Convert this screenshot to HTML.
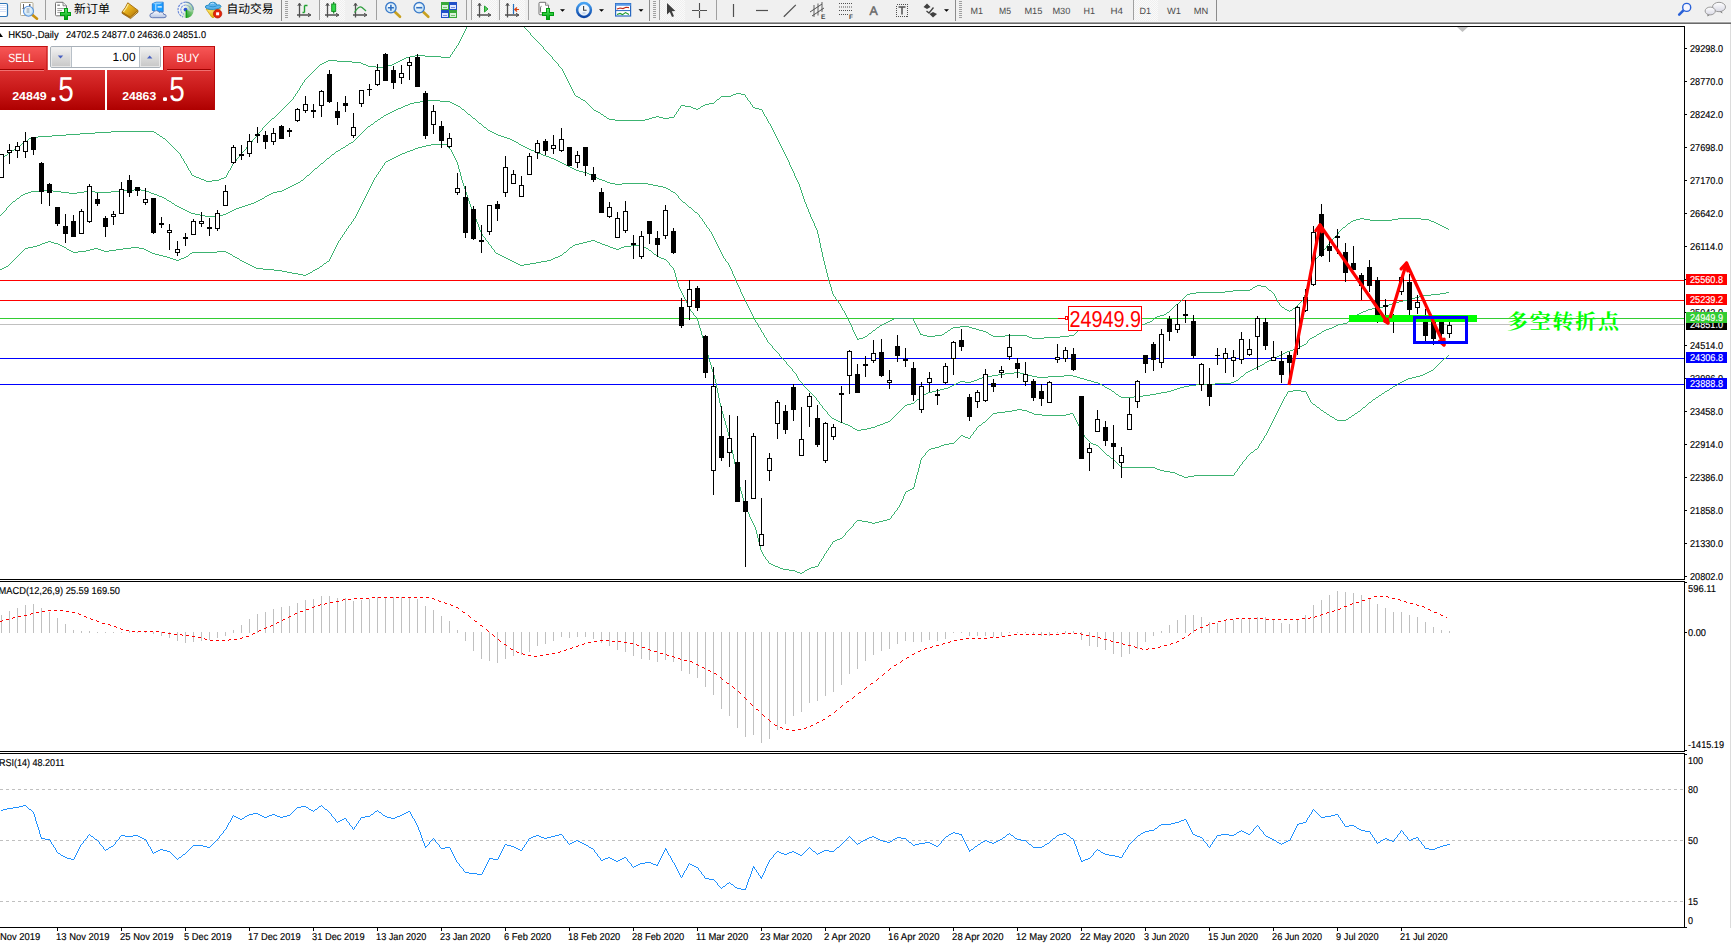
<!DOCTYPE html>
<html lang="zh"><head><meta charset="utf-8"><title>HK50-,Daily</title>
<style>
html,body{margin:0;padding:0;background:#fff;width:1731px;height:947px;overflow:hidden;}
body{width:1731px;height:947px;position:relative;overflow:hidden;font-family:"Liberation Sans","Noto Sans CJK SC",sans-serif;}
#tb{position:absolute;left:0;top:0;width:1731px;height:24px;background:#f0f0f0;}
#tb .sh{position:absolute;left:0;top:21px;width:1731px;height:3px;background:linear-gradient(#f6f6f6 0,#f6f6f6 33.3%,#a4a4a4 33.4%,#a4a4a4 66.6%,#6a6a6a 66.7%,#6a6a6a 100%);}
</style></head><body>
<svg width="1731" height="947" viewBox="0 0 1731 947" style="position:absolute;left:0;top:0" text-rendering="geometricPrecision" font-family="Liberation Sans, sans-serif"><defs><clipPath id="cm"><rect x="0" y="27" width="1684" height="552"/></clipPath><clipPath id="cd"><rect x="0" y="582" width="1684" height="169"/></clipPath><clipPath id="cr"><rect x="0" y="754" width="1684" height="173"/></clipPath><clipPath id="cx"><rect x="0" y="928" width="1731" height="19"/></clipPath></defs><g shape-rendering="crispEdges" fill="#000"><rect x="0" y="26" width="1685" height="1"/><rect x="1684" y="26" width="1" height="902"/><rect x="0" y="579" width="1685" height="1"/><rect x="0" y="581" width="1685" height="1"/><rect x="0" y="751" width="1685" height="1"/><rect x="0" y="753" width="1685" height="1"/><rect x="0" y="927" width="1687" height="1"/><rect x="1684" y="580" width="1" height="1" fill="#fff"/><rect x="1684" y="752" width="1" height="1" fill="#fff"/><rect x="1685" y="48" width="2" height="1"/><rect x="1685" y="81" width="2" height="1"/><rect x="1685" y="114" width="2" height="1"/><rect x="1685" y="147" width="2" height="1"/><rect x="1685" y="180" width="2" height="1"/><rect x="1685" y="213" width="2" height="1"/><rect x="1685" y="246" width="2" height="1"/><rect x="1685" y="279" width="2" height="1"/><rect x="1685" y="312" width="2" height="1"/><rect x="1685" y="345" width="2" height="1"/><rect x="1685" y="378" width="2" height="1"/><rect x="1685" y="411" width="2" height="1"/><rect x="1685" y="444" width="2" height="1"/><rect x="1685" y="477" width="2" height="1"/><rect x="1685" y="510" width="2" height="1"/><rect x="1685" y="543" width="2" height="1"/><rect x="1685" y="576" width="2" height="1"/><rect x="1685" y="582" width="2" height="1"/><rect x="1685" y="632" width="2" height="1"/><rect x="1685" y="750" width="2" height="1"/><rect x="1685" y="754" width="2" height="1"/><rect x="-7" y="928" width="1" height="3"/><rect x="57" y="928" width="1" height="3"/><rect x="121" y="928" width="1" height="3"/><rect x="185" y="928" width="1" height="3"/><rect x="249" y="928" width="1" height="3"/><rect x="313" y="928" width="1" height="3"/><rect x="377" y="928" width="1" height="3"/><rect x="441" y="928" width="1" height="3"/><rect x="505" y="928" width="1" height="3"/><rect x="569" y="928" width="1" height="3"/><rect x="633" y="928" width="1" height="3"/><rect x="697" y="928" width="1" height="3"/><rect x="761" y="928" width="1" height="3"/><rect x="825" y="928" width="1" height="3"/><rect x="889" y="928" width="1" height="3"/><rect x="953" y="928" width="1" height="3"/><rect x="1017" y="928" width="1" height="3"/><rect x="1081" y="928" width="1" height="3"/><rect x="1145" y="928" width="1" height="3"/><rect x="1209" y="928" width="1" height="3"/><rect x="1273" y="928" width="1" height="3"/><rect x="1337" y="928" width="1" height="3"/><rect x="1401" y="928" width="1" height="3"/></g><g shape-rendering="crispEdges"><rect x="0" y="280" width="1684" height="1" fill="#ff0000"/><rect x="0" y="300" width="1684" height="1" fill="#ff0000"/><rect x="0" y="318" width="1684" height="1" fill="#32cd32"/><rect x="0" y="324" width="1684" height="1" fill="#c0c0c0"/><rect x="0" y="358" width="1684" height="1" fill="#0000ff"/><rect x="0" y="384" width="1684" height="1" fill="#0000ff"/></g><g fill="none" stroke="#3cb371" stroke-width="1" shape-rendering="crispEdges"><path d="M0 159.5h1M1 158.5h2M3 157.5h1M4 156.5h1M5 155.5h2M7 154.5h1M8 153.5h2M10 152.5h1M11 151.5h1M12 150.5h2M14 149.5h1M15 148.5h2M17 147.5h1M18 146.5h2M20 145.5h1M21 144.5h1M22 143.5h2M24 142.5h1M25 141.5h2M27 140.5h1M28 139.5h1M29 138.5h2M31 137.5h7M38 136.5h14M52 135.5h14M66 134.5h14M80 133.5h15M95 132.5h16M111 131.5h43M154 132.5h2M156 133.5h1M157 134.5h2M159 135.5h1M160 136.5h2M162 137.5h1M163 138.5h2M165 139.5h1M166 140.5h1M167 141.5h1M168 142.5h1M169 143.5h1M170 144.5h1M171 145.5h1M172 146.5h1M173 147.5h1M174 148.5h1M175 149.5h1M176 150.5h1M177 151.5h1M178 152.5h1M179 153.5h1M180.5 154v2M181.5 156v2M182 158.5h1M183.5 159v2M184.5 161v2M185 163.5h1M186.5 164v2M187.5 166v2M188.5 168v2M189 170.5h1M190.5 171v2M191.5 173v2M192 175.5h2M194 176.5h2M196 177.5h3M199 178.5h2M201 179.5h3M204 180.5h2M206 181.5h6M212 180.5h7M219 179.5h2M221 178.5h3M224 177.5h2M226.5 175v2M227.5 173v2M228.5 171v2M229 170.5h1M230.5 168v2M231.5 166v2M232.5 164v2M233 163.5h1M234 162.5h1M235 161.5h1M236.5 159v2M237 158.5h1M238 157.5h1M239 156.5h1M240 155.5h1M241.5 153v2M242 152.5h1M243 151.5h1M244 150.5h1M245 149.5h1M246.5 147v2M247 146.5h1M248 145.5h1M249 144.5h1M250 143.5h1M251 142.5h1M252.5 140v2M253 139.5h1M254 138.5h1M255 137.5h1M256 136.5h1M257.5 134v2M258 133.5h1M259 132.5h1M260 131.5h1M261 130.5h1M262.5 128v2M263 127.5h1M264 126.5h1M265 125.5h1M266 124.5h1M267 123.5h1M268 122.5h1M269 121.5h1M270 120.5h1M271 119.5h1M272 118.5h2M274 117.5h1M275 116.5h1M276 115.5h1M277 114.5h1M278 113.5h1M279 112.5h1M280 111.5h1M281 110.5h1M282 109.5h1M283 108.5h1M284 107.5h1M285 106.5h1M286 105.5h1M287 104.5h1M288 103.5h1M289 102.5h1M290 101.5h1M291 100.5h1M292 99.5h1M293.5 97v2M294 96.5h1M295.5 94v2M296 93.5h1M297.5 91v2M298 90.5h1M299.5 88v2M300.5 86v2M301 85.5h1M302.5 83v2M303 82.5h1M304.5 80v2M305 79.5h1M306 78.5h1M307 77.5h1M308 76.5h1M309 75.5h1M310 74.5h1M311 73.5h1M312 72.5h1M313 71.5h1M314 70.5h1M315 69.5h1M316 68.5h1M317 67.5h1M318 66.5h1M319 65.5h1M320 64.5h2M322 63.5h2M324 62.5h2M326 61.5h2M328 60.5h9M337 61.5h15M352 62.5h9M361 63.5h2M363 64.5h3M366 65.5h2M368 66.5h8M376 67.5h9M385 66.5h3M388 65.5h4M392 64.5h2M394 63.5h2M396 62.5h2M398 61.5h2M400 60.5h2M402 59.5h2M404 58.5h2M406 57.5h4M410 56.5h5M415 55.5h10M425 56.5h16M441 57.5h9M450.5 55v2M451 54.5h1M452.5 52v2M453 51.5h1M454.5 49v2M455 48.5h1M456.5 46v2M457 45.5h1M458.5 43v2M459.5 41v2M460.5 39v2M461.5 37v2M462.5 35v2M463.5 33v2M464.5 31v2M465.5 29v2M466.5 27v2M524 27.5h1M525 28.5h1M526 29.5h1M527 30.5h1M528 31.5h1M529 32.5h1M530.5 33v2M531 35.5h1M532 36.5h1M533 37.5h1M534 38.5h1M535 39.5h1M536 40.5h1M537 41.5h1M538 42.5h1M539 43.5h1M540 44.5h1M541 45.5h1M542 46.5h1M543.5 47v2M544 49.5h1M545 50.5h1M546 51.5h1M547 52.5h1M548 53.5h1M549 54.5h1M550 55.5h1M551 56.5h1M552.5 57v2M553 59.5h1M554 60.5h1M555 61.5h1M556 62.5h1M557 63.5h1M558.5 64v2M559 66.5h1M560 67.5h1M561 68.5h1M562.5 69v2M563.5 71v2M564.5 73v2M565.5 75v2M566.5 77v2M567.5 79v2M568.5 81v2M569.5 83v2M570.5 85v2M571.5 87v2M572.5 89v2M573.5 91v2M574.5 93v2M575 95.5h1M576 96.5h2M578 97.5h2M580 98.5h1M581 99.5h2M583 100.5h2M585 101.5h1M586 102.5h1M587 103.5h1M588 104.5h1M589 105.5h1M590 106.5h1M591 107.5h1M592 108.5h1M593 109.5h1M594 110.5h2M596 111.5h2M598 112.5h2M600 113.5h1M601 114.5h2M603 115.5h1M604 116.5h2M606 117.5h1M607 118.5h2M609 119.5h6M615 120.5h30M645 119.5h4M649 118.5h3M652 117.5h4M656 116.5h3M659 117.5h4M663 118.5h6M669 117.5h5M674.5 115v2M675 114.5h1M676.5 112v2M677 111.5h1M678.5 109v2M679 108.5h1M680.5 106v2M681 105.5h4M685 106.5h6M691 107.5h2M693 108.5h3M696 109.5h2M698 108.5h2M700 107.5h1M701 106.5h2M703 105.5h2M705 104.5h4M709 103.5h5M714 102.5h1M715 101.5h1M716 100.5h1M717 99.5h2M719 98.5h1M720 97.5h1M721 96.5h10M731 95.5h2M733 94.5h3M736 93.5h5M741 94.5h4M745.5 95v2M746 97.5h1M747.5 98v2M748 100.5h1M749 101.5h1M750.5 102v2M751 104.5h1M752.5 105v2M753 107.5h2M755 108.5h4M759 109.5h3M762.5 110v2M763.5 112v2M764.5 114v2M765 116.5h1M766.5 117v2M767.5 119v2M768.5 121v2M769 123.5h1M770.5 124v2M771.5 126v2M772.5 128v2M773.5 130v2M774.5 132v2M775.5 134v2M776.5 136v2M777.5 138v2M778.5 140v2M779.5 142v2M780.5 144v2M781.5 146v2M782.5 148v2M783.5 150v2M784.5 152v2M785.5 154v2M786.5 156v2M787.5 158v2M788.5 160v2M789.5 162v3M790.5 165v2M791.5 167v2M792.5 169v2M793.5 171v2M794.5 173v3M795.5 176v2M796.5 178v2M797.5 180v2M798.5 182v2M799.5 184v3M800.5 187v3M801.5 190v3M802.5 193v3M803.5 196v3M804.5 199v3M805.5 202v2M806.5 204v3M807.5 207v2M808.5 209v3M809.5 212v2M810.5 214v3M811.5 217v2M812.5 219v2M813.5 221v2M814.5 223v3M815.5 226v2M816.5 228v2M817.5 230v4M818.5 234v4M819.5 238v5M820.5 243v5M821.5 248v4M822.5 252v5M823.5 257v4M824.5 261v4M825.5 265v4M826.5 269v4M827.5 273v4M828.5 277v4M829.5 281v3M830.5 284v3M831.5 287v4M832.5 291v3M833.5 294v2M834 296.5h1M835.5 297v2M836 299.5h1M837 300.5h1M838.5 301v2M839 303.5h1M840.5 304v2M841.5 306v2M842.5 308v2M843 310.5h1M844.5 311v2M845.5 313v2M846.5 315v2M847.5 317v2M848.5 319v2M849.5 321v2M850.5 323v2M851.5 325v2M852.5 327v3M853.5 330v2M854.5 332v2M855.5 334v2M856.5 336v2M857.5 338v2M858 339.5h1M859 338.5h4M863 337.5h2M865 336.5h2M867 335.5h1M868 334.5h1M869 333.5h2M871 332.5h1M872 331.5h1M873 330.5h2M875 329.5h1M876 328.5h1M877 327.5h2M879 326.5h1M880 325.5h2M882 324.5h2M884 323.5h2M886 322.5h2M888 321.5h2M890 320.5h2M892 319.5h2M894 318.5h19M913.5 319v2M914.5 321v2M915.5 323v2M916.5 325v2M917.5 327v2M918.5 329v2M919.5 331v2M920.5 333v2M921 334.5h2M923 335.5h4M927 336.5h8M935 335.5h7M942 334.5h2M944 333.5h1M945 332.5h2M947 331.5h1M948 330.5h2M950 329.5h1M951 328.5h2M953 327.5h7M960 326.5h9M969 327.5h3M972 328.5h4M976 329.5h3M979 330.5h4M983 331.5h3M986 332.5h2M988 333.5h1M989 334.5h2M991 335.5h2M993 336.5h12M1005 335.5h22M1027 336.5h2M1029 337.5h3M1032 338.5h12M1044 337.5h16M1060 336.5h9M1069 335.5h5M1074 334.5h1M1075 333.5h1M1076 332.5h1M1077 331.5h1M1078 330.5h1M1079 329.5h19M1098 328.5h14M1112 327.5h13M1125 326.5h10M1135 325.5h7M1142 324.5h3M1145 323.5h2M1147 322.5h3M1150 321.5h2M1152 320.5h1M1153 319.5h1M1154 318.5h1M1155 317.5h2M1157 316.5h3M1160 315.5h4M1164 314.5h2M1166 313.5h1M1167 312.5h2M1169 311.5h1M1170 310.5h1M1171 309.5h1M1172 308.5h1M1173 307.5h1M1174 306.5h1M1175 305.5h1M1176 304.5h2M1178 303.5h1M1179 302.5h1M1180 301.5h1M1181 300.5h1M1182 299.5h1M1183 298.5h1M1184 297.5h1M1185 296.5h1M1186 295.5h1M1187 294.5h3M1190 293.5h6M1196 292.5h29M1225 291.5h8M1233 290.5h17M1250 289.5h2M1252 288.5h1M1253 287.5h2M1255 286.5h2M1257 285.5h4M1261 286.5h5M1266 287.5h1M1267 288.5h1M1268 289.5h1M1269 290.5h2M1271 291.5h1M1272 292.5h1M1273 293.5h1M1274.5 294v2M1275.5 296v2M1276.5 298v2M1277.5 300v2M1278 302.5h1M1279.5 303v2M1280 305.5h1M1281 306.5h1M1282 307.5h2M1284 308.5h1M1285 309.5h2M1287 310.5h2M1289 311.5h1M1290 310.5h2M1292 309.5h1M1293 308.5h2M1295 307.5h1M1296 306.5h1M1297 305.5h1M1298 304.5h1M1299 303.5h1M1300 302.5h1M1301 301.5h1M1302 300.5h1M1303.5 298v2M1304.5 295v3M1305.5 291v4M1306.5 288v3M1307.5 285v3M1308.5 281v4M1309.5 278v3M1310.5 275v3M1311.5 271v4M1312.5 268v3M1313.5 265v3M1314.5 261v4M1315.5 259v2M1316 258.5h1M1317 257.5h1M1318 256.5h1M1319.5 254v2M1320 253.5h1M1321 252.5h1M1322 251.5h1M1323 250.5h1M1324 249.5h1M1325 248.5h1M1326.5 246v2M1327 245.5h1M1328 244.5h1M1329 243.5h1M1330 242.5h1M1331 241.5h1M1332.5 239v2M1333 238.5h1M1334 237.5h1M1335 236.5h1M1336 235.5h1M1337 234.5h1M1338.5 232v2M1339 231.5h1M1340 230.5h1M1341 229.5h1M1342 228.5h1M1343 227.5h2M1345 226.5h1M1346 225.5h1M1347 224.5h1M1348 223.5h2M1350 222.5h1M1351 221.5h2M1353 220.5h3M1356 219.5h4M1360 218.5h4M1364 219.5h6M1370 220.5h22M1392 219.5h6M1398 218.5h23M1421 219.5h8M1429 220.5h2M1431 221.5h3M1434 222.5h2M1436 223.5h2M1438 224.5h2M1440 225.5h2M1442 226.5h2M1444 227.5h2M1446 228.5h2M1448 229.5h1"/><path d="M0 215.5h1M1 214.5h1M2 213.5h1M3 212.5h1M4 211.5h1M5 210.5h1M6.5 208v2M7 207.5h1M8 206.5h1M9 205.5h1M10 204.5h1M11 203.5h1M12 202.5h1M13 201.5h2M15 200.5h1M16 199.5h1M17 198.5h2M19 197.5h1M20 196.5h1M21 195.5h2M23 194.5h2M25 193.5h3M28 192.5h3M31 191.5h10M41 190.5h12M53 191.5h8M61 192.5h8M69 193.5h8M77 192.5h7M84 191.5h11M95 192.5h16M111 191.5h13M124 190.5h10M134 189.5h7M141 190.5h4M145 191.5h4M149 192.5h2M151 193.5h3M154 194.5h3M157 195.5h2M159 196.5h3M162 197.5h2M164 198.5h2M166 199.5h1M167 200.5h2M169 201.5h2M171 202.5h1M172 203.5h2M174 204.5h1M175 205.5h2M177 206.5h2M179 207.5h2M181 208.5h2M183 209.5h2M185 210.5h2M187 211.5h2M189 212.5h2M191 213.5h4M195 214.5h5M200 215.5h5M205 216.5h14M219 215.5h4M223 214.5h3M226 213.5h2M228 212.5h2M230 211.5h2M232 210.5h2M234 209.5h2M236 208.5h3M239 207.5h3M242 206.5h3M245 205.5h3M248 204.5h3M251 203.5h3M254 202.5h2M256 201.5h2M258 200.5h2M260 199.5h2M262 198.5h2M264 197.5h1M265 196.5h2M267 195.5h2M269 194.5h2M271 193.5h2M273 192.5h4M277 191.5h5M282 190.5h2M284 189.5h2M286 188.5h2M288 187.5h2M290 186.5h2M292 185.5h2M294 184.5h2M296 183.5h2M298 182.5h2M300 181.5h1M301 180.5h2M303 179.5h1M304 178.5h1M305 177.5h1M306 176.5h1M307 175.5h2M309 174.5h1M310 173.5h1M311 172.5h1M312 171.5h1M313 170.5h1M314 169.5h1M315 168.5h2M317 167.5h1M318 166.5h1M319 165.5h1M320 164.5h1M321 163.5h2M323 162.5h1M324 161.5h1M325 160.5h1M326 159.5h1M327 158.5h2M329 157.5h1M330 156.5h1M331 155.5h1M332 154.5h2M334 153.5h1M335 152.5h1M336 151.5h2M338 150.5h2M340 149.5h1M341 148.5h2M343 147.5h2M345 146.5h1M346 145.5h2M348 144.5h1M349 143.5h2M351 142.5h2M353 141.5h1M354 140.5h1M355 139.5h1M356 138.5h1M357 137.5h1M358 136.5h1M359 135.5h1M360 134.5h1M361 133.5h1M362 132.5h1M363 131.5h1M364 130.5h1M365 129.5h1M366 128.5h1M367 127.5h1M368 126.5h2M370 125.5h1M371 124.5h2M373 123.5h1M374 122.5h1M375 121.5h2M377 120.5h1M378 119.5h2M380 118.5h1M381 117.5h2M383 116.5h1M384 115.5h2M386 114.5h2M388 113.5h2M390 112.5h2M392 111.5h2M394 110.5h2M396 109.5h2M398 108.5h3M401 107.5h2M403 106.5h2M405 105.5h3M408 104.5h2M410 103.5h4M414 102.5h6M420 101.5h7M427 100.5h13M440 101.5h10M450 102.5h2M452 103.5h2M454 104.5h2M456 105.5h2M458 106.5h2M460 107.5h1M461 108.5h1M462 109.5h2M464 110.5h1M465 111.5h1M466 112.5h1M467 113.5h1M468 114.5h2M470 115.5h1M471 116.5h1M472 117.5h1M473 118.5h2M475 119.5h1M476 120.5h1M477 121.5h1M478 122.5h1M479 123.5h2M481 124.5h1M482 125.5h1M483 126.5h1M484 127.5h2M486 128.5h1M487 129.5h1M488 130.5h2M490 131.5h2M492 132.5h2M494 133.5h2M496 134.5h2M498 135.5h3M501 136.5h3M504 137.5h3M507 138.5h3M510 139.5h2M512 140.5h2M514 141.5h2M516 142.5h2M518 143.5h1M519 144.5h2M521 145.5h2M523 146.5h2M525 147.5h2M527 148.5h2M529 149.5h2M531 150.5h3M534 151.5h2M536 152.5h2M538 153.5h3M541 154.5h2M543 155.5h3M546 156.5h3M549 157.5h2M551 158.5h3M554 159.5h2M556 160.5h2M558 161.5h2M560 162.5h2M562 163.5h2M564 164.5h2M566 165.5h2M568 166.5h2M570 167.5h2M572 168.5h2M574 169.5h2M576 170.5h3M579 171.5h4M583 172.5h4M587 173.5h2M589 174.5h2M591 175.5h2M593 176.5h2M595 177.5h2M597 178.5h2M599 179.5h3M602 180.5h3M605 181.5h2M607 182.5h3M610 183.5h5M615 184.5h7M622 183.5h26M648 184.5h5M653 185.5h5M658 186.5h5M663 187.5h3M666 188.5h2M668 189.5h2M670 190.5h1M671 191.5h2M673 192.5h2M675 193.5h1M676 194.5h1M677 195.5h1M678.5 196v2M679 198.5h1M680 199.5h1M681 200.5h1M682 201.5h1M683 202.5h2M685 203.5h1M686 204.5h1M687 205.5h1M688 206.5h1M689 207.5h2M691 208.5h1M692 209.5h1M693 210.5h1M694 211.5h1M695 212.5h2M697 213.5h1M698 214.5h1M699.5 215v2M700 217.5h1M701 218.5h1M702.5 219v2M703 221.5h1M704.5 222v2M705 224.5h1M706.5 225v2M707 227.5h1M708 228.5h1M709.5 229v2M710 231.5h1M711.5 232v2M712.5 234v2M713.5 236v2M714.5 238v2M715.5 240v2M716.5 242v2M717.5 244v2M718.5 246v2M719.5 248v2M720.5 250v2M721.5 252v2M722.5 254v2M723.5 256v2M724 258.5h1M725.5 259v2M726 261.5h1M727 262.5h1M728.5 263v2M729.5 265v2M730.5 267v2M731.5 269v2M732.5 271v3M733.5 274v2M734.5 276v2M735.5 278v3M736.5 281v2M737.5 283v2M738.5 285v2M739.5 287v2M740.5 289v3M741.5 292v2M742.5 294v2M743.5 296v2M744.5 298v2M745.5 300v2M746.5 302v2M747.5 304v2M748.5 306v2M749.5 308v2M750.5 310v2M751.5 312v2M752.5 314v2M753.5 316v2M754.5 318v2M755.5 320v2M756 322.5h1M757.5 323v2M758.5 325v2M759 327.5h1M760.5 328v2M761.5 330v2M762 332.5h1M763.5 333v2M764.5 335v2M765 337.5h1M766.5 338v2M767.5 340v2M768 342.5h1M769 343.5h1M770 344.5h1M771 345.5h1M772.5 346v2M773 348.5h1M774 349.5h1M775 350.5h1M776 351.5h1M777 352.5h1M778 353.5h1M779.5 354v2M780 356.5h1M781 357.5h1M782 358.5h1M783 359.5h1M784 360.5h1M785 361.5h1M786.5 362v2M787 364.5h1M788 365.5h1M789 366.5h1M790 367.5h1M791 368.5h1M792.5 369v2M793 371.5h1M794 372.5h1M795 373.5h1M796.5 374v2M797.5 376v2M798.5 378v2M799 380.5h1M800 381.5h1M801 382.5h1M802 383.5h1M803.5 384v2M804 386.5h1M805 387.5h1M806 388.5h1M807 389.5h1M808 390.5h1M809 391.5h1M810 392.5h1M811 393.5h1M812 394.5h1M813 395.5h1M814 396.5h1M815 397.5h1M816.5 398v2M817 400.5h1M818 401.5h1M819.5 402v2M820 404.5h1M821 405.5h1M822.5 406v2M823 408.5h1M824 409.5h1M825 410.5h1M826 411.5h1M827.5 412v2M828 414.5h1M829 415.5h1M830 416.5h1M831 417.5h1M832 418.5h2M834 419.5h2M836 420.5h2M838 421.5h2M840 422.5h3M843 423.5h2M845 424.5h3M848 425.5h2M850 426.5h2M852 427.5h1M853 428.5h2M855 429.5h2M857 430.5h4M861 429.5h6M867 428.5h4M871 427.5h4M875 426.5h2M877 425.5h3M880 424.5h3M883 423.5h2M885 422.5h3M888 421.5h2M890 420.5h1M891 419.5h1M892 418.5h1M893 417.5h1M894 416.5h1M895 415.5h1M896 414.5h1M897 413.5h1M898 412.5h1M899 411.5h1M900 410.5h1M901 409.5h1M902 408.5h1M903 407.5h1M904 406.5h1M905 405.5h2M907 404.5h4M911 403.5h3M914 402.5h1M915 401.5h1M916 400.5h1M917 399.5h2M919 398.5h1M920 397.5h1M921 396.5h1M922 395.5h2M924 394.5h2M926 393.5h2M928 392.5h4M932 391.5h4M936 390.5h4M940 389.5h4M944 388.5h4M948 387.5h2M950 386.5h2M952 385.5h2M954 384.5h2M956 383.5h2M958 382.5h2M960 381.5h5M965 382.5h6M971 381.5h3M974 380.5h3M977 379.5h2M979 378.5h3M982 377.5h4M986 376.5h6M992 375.5h6M998 374.5h7M1005 373.5h9M1014 372.5h6M1020 373.5h4M1024 374.5h4M1028 375.5h4M1032 376.5h5M1037 377.5h11M1048 376.5h16M1064 375.5h9M1073 376.5h4M1077 377.5h3M1080 378.5h4M1084 379.5h3M1087 380.5h4M1091 381.5h3M1094 382.5h4M1098 383.5h2M1100 384.5h2M1102 385.5h2M1104 386.5h1M1105 387.5h2M1107 388.5h2M1109 389.5h2M1111 390.5h1M1112 391.5h2M1114 392.5h1M1115 393.5h1M1116 394.5h2M1118 395.5h1M1119 396.5h2M1121 397.5h13M1134 396.5h9M1143 395.5h7M1150 394.5h6M1156 393.5h5M1161 392.5h6M1167 391.5h4M1171 390.5h3M1174 389.5h3M1177 388.5h3M1180 387.5h4M1184 386.5h5M1189 385.5h7M1196 384.5h19M1215 383.5h16M1231 382.5h3M1234 381.5h2M1236 380.5h2M1238 379.5h1M1239 378.5h1M1240 377.5h1M1241 376.5h2M1243 375.5h1M1244 374.5h1M1245 373.5h1M1246 372.5h2M1248 371.5h2M1250 370.5h2M1252 369.5h2M1254 368.5h2M1256 367.5h2M1258 366.5h2M1260 365.5h2M1262 364.5h2M1264 363.5h1M1265 362.5h2M1267 361.5h2M1269 360.5h2M1271 359.5h2M1273 358.5h2M1275 357.5h2M1277 356.5h2M1279 355.5h2M1281 354.5h2M1283 353.5h2M1285 352.5h2M1287 351.5h3M1290 350.5h3M1293 349.5h2M1295 348.5h3M1298 347.5h2M1300 346.5h2M1302 345.5h2M1304 344.5h2M1306 343.5h1M1307.5 341v2M1308 340.5h1M1309 339.5h1M1310 338.5h2M1312 337.5h2M1314 336.5h2M1316 335.5h1M1317 334.5h2M1319 333.5h2M1321 332.5h1M1322 331.5h2M1324 330.5h2M1326 329.5h3M1329 328.5h3M1332 327.5h2M1334 326.5h2M1336 325.5h2M1338 324.5h5M1343 323.5h4M1347 322.5h1M1348 321.5h2M1350 320.5h1M1351 319.5h1M1352 318.5h1M1353 317.5h1M1354 316.5h2M1356 315.5h1M1357 314.5h2M1359 313.5h2M1361 312.5h2M1363 311.5h3M1366 310.5h2M1368 309.5h4M1372 308.5h6M1378 307.5h5M1383 306.5h3M1386 305.5h3M1389 304.5h3M1392 303.5h3M1395 302.5h4M1399 301.5h4M1403 300.5h4M1407 299.5h4M1411 298.5h4M1415 297.5h4M1419 296.5h4M1423 295.5h8M1431 294.5h9M1440 293.5h6M1446 292.5h3"/><path d="M0 269.5h2M2 268.5h2M4 267.5h2M6 266.5h2M8 265.5h1M9 264.5h1M10 263.5h1M11 262.5h1M12 261.5h1M13 260.5h1M14 259.5h1M15 258.5h1M16 257.5h1M17 256.5h1M18 255.5h1M19 254.5h1M20 253.5h1M21 252.5h1M22 251.5h1M23 250.5h1M24 249.5h1M25 248.5h3M28 247.5h5M33 246.5h4M37 245.5h3M40 244.5h2M42 243.5h3M45 242.5h3M48 241.5h3M51 242.5h3M54 243.5h4M58 244.5h2M60 245.5h2M62 246.5h2M64 247.5h2M66 248.5h1M67 249.5h2M69 250.5h2M71 251.5h2M73 252.5h5M78 251.5h8M86 250.5h4M90 249.5h4M94 248.5h4M98 249.5h3M101 250.5h3M104 251.5h5M109 250.5h7M116 249.5h7M123 248.5h8M131 247.5h8M139 248.5h5M144 249.5h2M146 250.5h2M148 251.5h2M150 252.5h2M152 253.5h3M155 254.5h4M159 255.5h4M163 256.5h4M167 257.5h3M170 258.5h3M173 259.5h3M176 260.5h3M179 259.5h2M181 258.5h3M184 257.5h2M186 256.5h2M188 255.5h1M189 254.5h1M190 253.5h2M192 252.5h25M217 251.5h9M226 252.5h2M228 253.5h2M230 254.5h2M232 255.5h1M233 256.5h2M235 257.5h2M237 258.5h2M239 259.5h1M240 260.5h2M242 261.5h2M244 262.5h2M246 263.5h2M248 264.5h2M250 265.5h2M252 266.5h2M254 267.5h2M256 268.5h7M263 269.5h11M274 270.5h8M282 271.5h5M287 272.5h5M292 273.5h6M298 274.5h5M303 275.5h3M306 274.5h2M308 273.5h2M310 272.5h2M312 271.5h1M313 270.5h2M315 269.5h2M317 268.5h2M319 267.5h1M320 266.5h2M322 265.5h1M323 264.5h1M324 263.5h2M326 262.5h1M327 261.5h2M329.5 259v2M330.5 257v2M331.5 255v2M332.5 253v2M333.5 251v2M334.5 249v2M335.5 247v2M336.5 245v2M337.5 243v2M338.5 241v2M339 240.5h1M340.5 238v2M341 237.5h1M342.5 235v2M343 234.5h1M344.5 232v2M345 231.5h1M346.5 229v2M347 228.5h1M348.5 226v2M349 225.5h1M350 224.5h1M351.5 222v2M352 221.5h1M353.5 219v2M354 218.5h1M355.5 216v2M356.5 214v2M357.5 212v2M358.5 210v2M359.5 208v2M360.5 206v2M361.5 204v2M362.5 202v2M363.5 200v2M364.5 198v2M365.5 196v2M366.5 194v2M367.5 192v2M368.5 190v2M369.5 188v2M370.5 186v2M371.5 184v2M372.5 182v2M373.5 180v2M374.5 178v2M375 177.5h1M376.5 175v2M377 174.5h1M378.5 172v2M379 171.5h1M380.5 169v2M381 168.5h1M382.5 166v2M383 165.5h1M384.5 163v2M385 162.5h1M386 161.5h2M388 160.5h2M390 159.5h2M392 158.5h2M394 157.5h2M396 156.5h2M398 155.5h2M400 154.5h2M402 153.5h3M405 152.5h2M407 151.5h3M410 150.5h3M413 149.5h2M415 148.5h3M418 147.5h4M422 146.5h4M426 145.5h5M431 144.5h16M447 145.5h1M448.5 146v2M449 148.5h1M450 149.5h1M451.5 150v2M452.5 152v2M453.5 154v2M454.5 156v2M455.5 158v2M456.5 160v2M457.5 162v3M458.5 165v4M459.5 169v3M460.5 172v4M461.5 176v4M462.5 180v3M463.5 183v3M464.5 186v3M465.5 189v3M466.5 192v3M467.5 195v3M468.5 198v3M469.5 201v3M470.5 204v3M471.5 207v2M472.5 209v3M473.5 212v2M474.5 214v3M475.5 217v2M476.5 219v3M477.5 222v2M478.5 224v3M479.5 227v3M480.5 230v2M481.5 232v2M482.5 234v2M483 236.5h1M484 237.5h1M485.5 238v2M486 240.5h1M487 241.5h1M488.5 242v2M489 244.5h1M490 245.5h1M491.5 246v2M492 248.5h1M493 249.5h1M494.5 250v2M495 252.5h1M496 253.5h2M498 254.5h2M500 255.5h2M502 256.5h2M504 257.5h2M506 258.5h2M508 259.5h2M510 260.5h2M512 261.5h2M514 262.5h2M516 263.5h2M518 264.5h2M520 265.5h4M524 264.5h6M530 263.5h6M536 262.5h5M541 261.5h6M547 260.5h4M551 259.5h2M553 258.5h2M555 257.5h3M558 256.5h2M560 255.5h2M562 254.5h1M563 253.5h1M564 252.5h2M566 251.5h1M567 250.5h1M568 249.5h1M569 248.5h1M570 247.5h2M572 246.5h1M573 245.5h2M575 244.5h4M579 243.5h4M583 242.5h4M587 241.5h4M591 240.5h4M595 241.5h2M597 242.5h3M600 243.5h2M602 244.5h3M605 245.5h3M608 246.5h2M610 247.5h3M613 248.5h3M616 249.5h3M619 248.5h2M621 247.5h3M624 246.5h7M631 245.5h8M639 246.5h3M642 247.5h4M646 248.5h2M648 249.5h1M649 250.5h2M651 251.5h1M652 252.5h1M653 253.5h1M654 254.5h2M656 255.5h1M657 256.5h2M659 257.5h2M661 258.5h3M664 259.5h2M666 260.5h1M667 261.5h1M668 262.5h1M669.5 263v2M670 265.5h1M671 266.5h1M672 267.5h1M673.5 268v2M674.5 270v3M675.5 273v4M676.5 277v3M677.5 280v3M678.5 283v4M679.5 287v2M680.5 289v2M681.5 291v2M682.5 293v2M683.5 295v2M684.5 297v2M685.5 299v2M686.5 301v2M687.5 303v2M688.5 305v2M689.5 307v2M690.5 309v2M691 311.5h1M692 312.5h1M693.5 313v2M694 315.5h1M695 316.5h1M696.5 317v2M697.5 319v2M698.5 321v4M699.5 325v3M700.5 328v3M701.5 331v4M702.5 335v3M703.5 338v4M704.5 342v3M705.5 345v3M706.5 348v4M707.5 352v3M708.5 355v4M709.5 359v3M710.5 362v3M711.5 365v4M712.5 369v3M713.5 372v3M714.5 375v4M715.5 379v4M716.5 383v5M717.5 388v5M718.5 393v5M719.5 398v5M720.5 403v4M721.5 407v4M722.5 411v3M723.5 414v4M724.5 418v3M725.5 421v4M726.5 425v3M727.5 428v4M728.5 432v4M729.5 436v4M730.5 440v5M731.5 445v5M732.5 450v4M733.5 454v5M734.5 459v5M735.5 464v5M736.5 469v4M737.5 473v5M738.5 478v5M739.5 483v4M740.5 487v4M741.5 491v3M742.5 494v4M743.5 498v3M744.5 501v4M745.5 505v3M746.5 508v2M747.5 510v2M748.5 512v2M749.5 514v3M750.5 517v2M751.5 519v2M752.5 521v2M753.5 523v2M754.5 525v2M755.5 527v3M756.5 530v4M757.5 534v4M758.5 538v4M759.5 542v4M760.5 546v4M761.5 550v2M762.5 552v2M763.5 554v2M764 556.5h1M765.5 557v2M766 559.5h1M767 560.5h1M768.5 561v2M769 563.5h2M771 564.5h2M773 565.5h2M775 566.5h3M778 567.5h2M780 568.5h3M783 569.5h6M789 570.5h6M795 571.5h2M797 572.5h3M800 573.5h2M802 572.5h2M804 571.5h1M805 570.5h2M807 569.5h2M809 568.5h2M811 567.5h4M815 566.5h3M818.5 564v2M819.5 562v2M820 561.5h1M821.5 559v2M822 558.5h1M823.5 556v2M824.5 554v2M825 553.5h1M826.5 551v2M827 550.5h1M828.5 548v2M829 547.5h1M830.5 545v2M831 544.5h1M832.5 542v2M833 541.5h2M835 540.5h2M837 539.5h3M840 538.5h2M842 537.5h1M843 536.5h1M844 535.5h1M845.5 533v2M846 532.5h1M847 531.5h1M848 530.5h1M849 529.5h1M850 528.5h1M851 527.5h1M852 526.5h1M853.5 524v2M854 523.5h1M855 522.5h1M856 521.5h1M857 520.5h5M862 521.5h6M868 522.5h4M872 523.5h3M875 522.5h4M879 521.5h4M883 520.5h4M887 519.5h3M890 518.5h1M891.5 516v2M892 515.5h1M893 514.5h1M894.5 512v2M895 511.5h1M896 510.5h1M897.5 508v2M898 507.5h1M899.5 505v2M900.5 503v2M901.5 501v2M902.5 499v2M903.5 496v3M904.5 494v2M905.5 492v2M906 491.5h2M908 490.5h2M910 489.5h2M912 488.5h2M913 487.5h1M914.5 483v4M915.5 479v4M916.5 475v4M917.5 472v3M918.5 468v4M919.5 464v4M920.5 460v4M921.5 458v2M922 457.5h1M923 456.5h1M924 455.5h1M925.5 453v2M926 452.5h1M927 451.5h1M928 450.5h1M929 449.5h2M931 448.5h4M935 447.5h4M939 446.5h2M941 445.5h3M944 444.5h5M949 443.5h5M954 442.5h1M955 441.5h1M956 440.5h1M957 439.5h1M958 438.5h1M959 437.5h1M960 436.5h1M961 435.5h2M963 436.5h2M965 437.5h3M968 438.5h2M970.5 436v2M971 435.5h1M972 434.5h1M973.5 432v2M974 431.5h1M975 430.5h1M976.5 428v2M977 427.5h1M978 426.5h1M979 425.5h2M981 424.5h1M982 423.5h1M983 422.5h2M985 421.5h1M986 420.5h1M987 419.5h1M988 418.5h1M989 417.5h1M990 416.5h1M991 415.5h1M992 414.5h1M993 413.5h4M997 412.5h8M1005 411.5h7M1012 410.5h5M1017 409.5h5M1022 410.5h5M1027 411.5h2M1029 412.5h3M1032 413.5h2M1034 414.5h8M1042 415.5h24M1066 414.5h4M1070 413.5h3M1073.5 414v2M1074.5 416v2M1075.5 418v2M1076.5 420v2M1077.5 422v2M1078.5 424v2M1079.5 426v2M1080.5 428v2M1081.5 430v2M1082 432.5h1M1083.5 433v2M1084.5 435v2M1085 437.5h1M1086 438.5h1M1087 439.5h1M1088 440.5h1M1089 441.5h1M1090 442.5h1M1091 443.5h2M1093 444.5h3M1096 445.5h2M1098 446.5h1M1099 447.5h1M1100 448.5h1M1101 449.5h1M1102 450.5h1M1103 451.5h1M1104 452.5h1M1105 453.5h1M1106 454.5h1M1107 455.5h2M1109 456.5h1M1110 457.5h1M1111 458.5h2M1113 459.5h1M1114 460.5h1M1115 461.5h1M1116 462.5h1M1117 463.5h1M1118 464.5h1M1119 465.5h1M1120 466.5h1M1121 467.5h34M1155 468.5h2M1157 469.5h3M1160 470.5h4M1164 471.5h6M1170 472.5h5M1175 473.5h2M1177 474.5h2M1179 475.5h3M1182 476.5h2M1184 477.5h4M1188 476.5h6M1194 475.5h40M1234.5 473v2M1235 472.5h1M1236 471.5h1M1237.5 469v2M1238 468.5h1M1239.5 466v2M1240 465.5h1M1241 464.5h1M1242.5 462v2M1243 461.5h1M1244 460.5h1M1245 459.5h1M1246.5 457v2M1247 456.5h1M1248 455.5h1M1249 454.5h1M1250 453.5h1M1251 452.5h2M1253 451.5h1M1254 450.5h1M1255 449.5h2M1257 448.5h1M1258.5 446v2M1259.5 444v2M1260 443.5h1M1261.5 441v2M1262 440.5h1M1263.5 438v2M1264.5 436v2M1265 435.5h1M1266.5 433v2M1267.5 431v2M1268.5 429v2M1269.5 427v2M1270.5 425v2M1271.5 423v2M1272.5 421v2M1273.5 419v2M1274.5 417v2M1275.5 415v2M1276.5 413v2M1277.5 411v2M1278.5 409v2M1279.5 407v2M1280.5 405v2M1281.5 403v2M1282.5 401v2M1283.5 399v2M1284.5 397v2M1285 396.5h1M1286.5 394v2M1287.5 392v2M1288 391.5h5M1293 390.5h8M1301 391.5h5M1306.5 392v2M1307.5 394v2M1308.5 396v2M1309.5 398v2M1310.5 400v2M1311 402.5h1M1312 403.5h1M1313 404.5h2M1315 405.5h1M1316 406.5h1M1317 407.5h2M1319 408.5h1M1320 409.5h1M1321 410.5h2M1323 411.5h1M1324 412.5h2M1326 413.5h1M1327 414.5h2M1329 415.5h1M1330 416.5h2M1332 417.5h2M1334 418.5h1M1335 419.5h2M1337 420.5h9M1346 419.5h2M1348 418.5h1M1349 417.5h2M1351 416.5h1M1352 415.5h2M1354 414.5h1M1355 413.5h2M1357 412.5h1M1358 411.5h2M1360 410.5h1M1361 409.5h1M1362 408.5h1M1363 407.5h2M1365 406.5h1M1366 405.5h1M1367 404.5h1M1368 403.5h1M1369 402.5h2M1371 401.5h1M1372 400.5h1M1373 399.5h2M1375 398.5h1M1376 397.5h2M1378 396.5h1M1379 395.5h2M1381 394.5h1M1382 393.5h2M1384 392.5h1M1385 391.5h2M1387 390.5h2M1389 389.5h1M1390 388.5h2M1392 387.5h1M1393 386.5h2M1395 385.5h2M1397 384.5h1M1398 383.5h2M1400 382.5h2M1402 381.5h2M1404 380.5h2M1406 379.5h2M1408 378.5h4M1412 377.5h4M1416 376.5h4M1420 375.5h3M1423 374.5h2M1425 373.5h2M1427 372.5h2M1429 371.5h2M1431 370.5h2M1433 369.5h1M1434 368.5h1M1435 367.5h1M1436 366.5h1M1437 365.5h1M1438 364.5h1M1439 363.5h1M1440 362.5h1M1441 361.5h1M1442 360.5h1M1443 359.5h1M1444 358.5h2M1446 357.5h1M1447 356.5h1M1448 355.5h1"/></g><g clip-path="url(#cm)" shape-rendering="crispEdges"><rect x="1" y="154" width="1" height="24" fill="#000"/><rect x="-1" y="154" width="5" height="24" fill="#000"/><rect x="0" y="155" width="3" height="22" fill="#fff"/><rect x="9" y="144" width="1" height="20" fill="#000"/><rect x="7" y="150" width="5" height="3" fill="#000"/><rect x="8" y="151" width="3" height="1" fill="#fff"/><rect x="17" y="142" width="1" height="16" fill="#000"/><rect x="15" y="146" width="5" height="5" fill="#000"/><rect x="16" y="147" width="3" height="3" fill="#fff"/><rect x="25" y="132" width="1" height="26" fill="#000"/><rect x="23" y="141" width="5" height="11" fill="#000"/><rect x="24" y="142" width="3" height="9" fill="#fff"/><rect x="33" y="137" width="1" height="18" fill="#000"/><rect x="31" y="137" width="5" height="13" fill="#000"/><rect x="41" y="162" width="1" height="42" fill="#000"/><rect x="39" y="163" width="5" height="29" fill="#000"/><rect x="49" y="183" width="1" height="23" fill="#000"/><rect x="47" y="184" width="5" height="9" fill="#000"/><rect x="57" y="207" width="1" height="19" fill="#000"/><rect x="55" y="207" width="5" height="17" fill="#000"/><rect x="65" y="214" width="1" height="29" fill="#000"/><rect x="63" y="226" width="5" height="8" fill="#000"/><rect x="73" y="215" width="1" height="22" fill="#000"/><rect x="71" y="221" width="5" height="16" fill="#000"/><rect x="81" y="209" width="1" height="25" fill="#000"/><rect x="79" y="211" width="5" height="23" fill="#000"/><rect x="80" y="212" width="3" height="21" fill="#fff"/><rect x="89" y="184" width="1" height="39" fill="#000"/><rect x="87" y="186" width="5" height="36" fill="#000"/><rect x="88" y="187" width="3" height="34" fill="#fff"/><rect x="97" y="193" width="1" height="13" fill="#000"/><rect x="95" y="199" width="5" height="5" fill="#000"/><rect x="105" y="216" width="1" height="21" fill="#000"/><rect x="103" y="218" width="5" height="9" fill="#000"/><rect x="113" y="211" width="1" height="14" fill="#000"/><rect x="111" y="214" width="5" height="3" fill="#000"/><rect x="112" y="215" width="3" height="1" fill="#fff"/><rect x="121" y="182" width="1" height="32" fill="#000"/><rect x="119" y="189" width="5" height="25" fill="#000"/><rect x="120" y="190" width="3" height="23" fill="#fff"/><rect x="129" y="175" width="1" height="22" fill="#000"/><rect x="127" y="180" width="5" height="13" fill="#000"/><rect x="137" y="187" width="1" height="9" fill="#000"/><rect x="135" y="187" width="5" height="4" fill="#000"/><rect x="145" y="188" width="1" height="17" fill="#000"/><rect x="143" y="199" width="5" height="4" fill="#000"/><rect x="144" y="200" width="3" height="2" fill="#fff"/><rect x="153" y="198" width="1" height="36" fill="#000"/><rect x="151" y="198" width="5" height="35" fill="#000"/><rect x="161" y="217" width="1" height="11" fill="#000"/><rect x="159" y="223" width="5" height="2" fill="#000"/><rect x="169" y="224" width="1" height="26" fill="#000"/><rect x="167" y="230" width="5" height="3" fill="#000"/><rect x="168" y="231" width="3" height="1" fill="#fff"/><rect x="177" y="241" width="1" height="15" fill="#000"/><rect x="175" y="249" width="5" height="4" fill="#000"/><rect x="176" y="250" width="3" height="2" fill="#fff"/><rect x="185" y="233" width="1" height="13" fill="#000"/><rect x="183" y="237" width="5" height="2" fill="#000"/><rect x="193" y="219" width="1" height="16" fill="#000"/><rect x="191" y="221" width="5" height="14" fill="#000"/><rect x="192" y="222" width="3" height="12" fill="#fff"/><rect x="201" y="212" width="1" height="15" fill="#000"/><rect x="199" y="221" width="5" height="3" fill="#000"/><rect x="200" y="222" width="3" height="1" fill="#fff"/><rect x="209" y="218" width="1" height="18" fill="#000"/><rect x="207" y="227" width="5" height="2" fill="#000"/><rect x="217" y="210" width="1" height="21" fill="#000"/><rect x="215" y="213" width="5" height="16" fill="#000"/><rect x="216" y="214" width="3" height="14" fill="#fff"/><rect x="225" y="185" width="1" height="21" fill="#000"/><rect x="223" y="191" width="5" height="15" fill="#000"/><rect x="224" y="192" width="3" height="13" fill="#fff"/><rect x="233" y="145" width="1" height="19" fill="#000"/><rect x="231" y="147" width="5" height="16" fill="#000"/><rect x="232" y="148" width="3" height="14" fill="#fff"/><rect x="241" y="145" width="1" height="15" fill="#000"/><rect x="239" y="154" width="5" height="2" fill="#000"/><rect x="249" y="134" width="1" height="23" fill="#000"/><rect x="247" y="141" width="5" height="13" fill="#000"/><rect x="248" y="142" width="3" height="11" fill="#fff"/><rect x="257" y="127" width="1" height="16" fill="#000"/><rect x="255" y="134" width="5" height="2" fill="#000"/><rect x="265" y="131" width="1" height="18" fill="#000"/><rect x="263" y="135" width="5" height="7" fill="#000"/><rect x="273" y="128" width="1" height="17" fill="#000"/><rect x="271" y="133" width="5" height="9" fill="#000"/><rect x="272" y="134" width="3" height="7" fill="#fff"/><rect x="281" y="125" width="1" height="14" fill="#000"/><rect x="279" y="126" width="5" height="13" fill="#000"/><rect x="289" y="128" width="1" height="9" fill="#000"/><rect x="287" y="130" width="5" height="2" fill="#000"/><rect x="297" y="108" width="1" height="14" fill="#000"/><rect x="295" y="109" width="5" height="12" fill="#000"/><rect x="296" y="110" width="3" height="10" fill="#fff"/><rect x="305" y="96" width="1" height="17" fill="#000"/><rect x="303" y="104" width="5" height="7" fill="#000"/><rect x="304" y="105" width="3" height="5" fill="#fff"/><rect x="313" y="104" width="1" height="14" fill="#000"/><rect x="311" y="110" width="5" height="2" fill="#000"/><rect x="321" y="90" width="1" height="27" fill="#000"/><rect x="319" y="91" width="5" height="15" fill="#000"/><rect x="320" y="92" width="3" height="13" fill="#fff"/><rect x="329" y="70" width="1" height="33" fill="#000"/><rect x="327" y="74" width="5" height="28" fill="#000"/><rect x="337" y="102" width="1" height="23" fill="#000"/><rect x="335" y="111" width="5" height="7" fill="#000"/><rect x="345" y="96" width="1" height="16" fill="#000"/><rect x="343" y="103" width="5" height="3" fill="#000"/><rect x="353" y="113" width="1" height="25" fill="#000"/><rect x="351" y="127" width="5" height="9" fill="#000"/><rect x="352" y="128" width="3" height="7" fill="#fff"/><rect x="361" y="90" width="1" height="17" fill="#000"/><rect x="359" y="90" width="5" height="14" fill="#000"/><rect x="360" y="91" width="3" height="12" fill="#fff"/><rect x="369" y="84" width="1" height="12" fill="#000"/><rect x="367" y="89" width="5" height="1" fill="#000"/><rect x="377" y="64" width="1" height="22" fill="#000"/><rect x="375" y="70" width="5" height="15" fill="#000"/><rect x="376" y="71" width="3" height="13" fill="#fff"/><rect x="385" y="53" width="1" height="28" fill="#000"/><rect x="383" y="54" width="5" height="27" fill="#000"/><rect x="393" y="66" width="1" height="23" fill="#000"/><rect x="391" y="70" width="5" height="13" fill="#000"/><rect x="401" y="65" width="1" height="19" fill="#000"/><rect x="399" y="73" width="5" height="5" fill="#000"/><rect x="400" y="74" width="3" height="3" fill="#fff"/><rect x="409" y="57" width="1" height="23" fill="#000"/><rect x="407" y="62" width="5" height="4" fill="#000"/><rect x="408" y="63" width="3" height="2" fill="#fff"/><rect x="417" y="54" width="1" height="33" fill="#000"/><rect x="415" y="57" width="5" height="30" fill="#000"/><rect x="425" y="91" width="1" height="48" fill="#000"/><rect x="423" y="93" width="5" height="43" fill="#000"/><rect x="433" y="105" width="1" height="29" fill="#000"/><rect x="431" y="111" width="5" height="14" fill="#000"/><rect x="432" y="112" width="3" height="12" fill="#fff"/><rect x="441" y="121" width="1" height="27" fill="#000"/><rect x="439" y="126" width="5" height="15" fill="#000"/><rect x="449" y="133" width="1" height="15" fill="#000"/><rect x="447" y="138" width="5" height="9" fill="#000"/><rect x="448" y="139" width="3" height="7" fill="#fff"/><rect x="457" y="173" width="1" height="22" fill="#000"/><rect x="455" y="188" width="5" height="5" fill="#000"/><rect x="456" y="189" width="3" height="3" fill="#fff"/><rect x="465" y="186" width="1" height="52" fill="#000"/><rect x="463" y="197" width="5" height="36" fill="#000"/><rect x="473" y="206" width="1" height="34" fill="#000"/><rect x="471" y="209" width="5" height="30" fill="#000"/><rect x="481" y="225" width="1" height="28" fill="#000"/><rect x="479" y="240" width="5" height="2" fill="#000"/><rect x="489" y="205" width="1" height="30" fill="#000"/><rect x="487" y="205" width="5" height="27" fill="#000"/><rect x="488" y="206" width="3" height="25" fill="#fff"/><rect x="497" y="201" width="1" height="20" fill="#000"/><rect x="495" y="204" width="5" height="5" fill="#000"/><rect x="505" y="156" width="1" height="41" fill="#000"/><rect x="503" y="167" width="5" height="26" fill="#000"/><rect x="504" y="168" width="3" height="24" fill="#fff"/><rect x="513" y="170" width="1" height="14" fill="#000"/><rect x="511" y="174" width="5" height="10" fill="#000"/><rect x="512" y="175" width="3" height="8" fill="#fff"/><rect x="521" y="176" width="1" height="21" fill="#000"/><rect x="519" y="185" width="5" height="12" fill="#000"/><rect x="520" y="186" width="3" height="10" fill="#fff"/><rect x="529" y="153" width="1" height="22" fill="#000"/><rect x="527" y="156" width="5" height="19" fill="#000"/><rect x="528" y="157" width="3" height="17" fill="#fff"/><rect x="537" y="140" width="1" height="19" fill="#000"/><rect x="535" y="143" width="5" height="10" fill="#000"/><rect x="536" y="144" width="3" height="8" fill="#fff"/><rect x="545" y="139" width="1" height="16" fill="#000"/><rect x="543" y="141" width="5" height="10" fill="#000"/><rect x="553" y="135" width="1" height="19" fill="#000"/><rect x="551" y="145" width="5" height="4" fill="#000"/><rect x="552" y="146" width="3" height="2" fill="#fff"/><rect x="561" y="128" width="1" height="24" fill="#000"/><rect x="559" y="139" width="5" height="12" fill="#000"/><rect x="560" y="140" width="3" height="10" fill="#fff"/><rect x="569" y="147" width="1" height="19" fill="#000"/><rect x="567" y="147" width="5" height="19" fill="#000"/><rect x="577" y="151" width="1" height="17" fill="#000"/><rect x="575" y="155" width="5" height="8" fill="#000"/><rect x="576" y="156" width="3" height="6" fill="#fff"/><rect x="585" y="147" width="1" height="29" fill="#000"/><rect x="583" y="147" width="5" height="19" fill="#000"/><rect x="593" y="167" width="1" height="15" fill="#000"/><rect x="591" y="174" width="5" height="6" fill="#000"/><rect x="601" y="188" width="1" height="25" fill="#000"/><rect x="599" y="192" width="5" height="21" fill="#000"/><rect x="609" y="202" width="1" height="16" fill="#000"/><rect x="607" y="207" width="5" height="10" fill="#000"/><rect x="608" y="208" width="3" height="8" fill="#fff"/><rect x="617" y="212" width="1" height="26" fill="#000"/><rect x="615" y="218" width="5" height="20" fill="#000"/><rect x="616" y="219" width="3" height="18" fill="#fff"/><rect x="625" y="201" width="1" height="32" fill="#000"/><rect x="623" y="211" width="5" height="20" fill="#000"/><rect x="624" y="212" width="3" height="18" fill="#fff"/><rect x="633" y="235" width="1" height="24" fill="#000"/><rect x="631" y="243" width="5" height="2" fill="#000"/><rect x="641" y="231" width="1" height="28" fill="#000"/><rect x="639" y="236" width="5" height="21" fill="#000"/><rect x="640" y="237" width="3" height="19" fill="#fff"/><rect x="649" y="221" width="1" height="23" fill="#000"/><rect x="647" y="221" width="5" height="13" fill="#000"/><rect x="657" y="231" width="1" height="26" fill="#000"/><rect x="655" y="238" width="5" height="7" fill="#000"/><rect x="665" y="205" width="1" height="34" fill="#000"/><rect x="663" y="210" width="5" height="26" fill="#000"/><rect x="664" y="211" width="3" height="24" fill="#fff"/><rect x="673" y="228" width="1" height="26" fill="#000"/><rect x="671" y="231" width="5" height="22" fill="#000"/><rect x="681" y="298" width="1" height="30" fill="#000"/><rect x="679" y="307" width="5" height="19" fill="#000"/><rect x="689" y="280" width="1" height="40" fill="#000"/><rect x="687" y="289" width="5" height="18" fill="#000"/><rect x="688" y="290" width="3" height="16" fill="#fff"/><rect x="697" y="286" width="1" height="25" fill="#000"/><rect x="695" y="288" width="5" height="20" fill="#000"/><rect x="705" y="335" width="1" height="43" fill="#000"/><rect x="703" y="336" width="5" height="37" fill="#000"/><rect x="713" y="367" width="1" height="128" fill="#000"/><rect x="711" y="386" width="5" height="85" fill="#000"/><rect x="712" y="387" width="3" height="83" fill="#fff"/><rect x="721" y="406" width="1" height="55" fill="#000"/><rect x="719" y="436" width="5" height="22" fill="#000"/><rect x="729" y="415" width="1" height="52" fill="#000"/><rect x="727" y="438" width="5" height="15" fill="#000"/><rect x="728" y="439" width="3" height="13" fill="#fff"/><rect x="737" y="416" width="1" height="86" fill="#000"/><rect x="735" y="462" width="5" height="40" fill="#000"/><rect x="745" y="480" width="1" height="87" fill="#000"/><rect x="743" y="501" width="5" height="11" fill="#000"/><rect x="753" y="433" width="1" height="66" fill="#000"/><rect x="751" y="436" width="5" height="63" fill="#000"/><rect x="752" y="437" width="3" height="61" fill="#fff"/><rect x="761" y="498" width="1" height="48" fill="#000"/><rect x="759" y="534" width="5" height="12" fill="#000"/><rect x="760" y="535" width="3" height="10" fill="#fff"/><rect x="769" y="453" width="1" height="28" fill="#000"/><rect x="767" y="458" width="5" height="13" fill="#000"/><rect x="768" y="459" width="3" height="11" fill="#fff"/><rect x="777" y="400" width="1" height="39" fill="#000"/><rect x="775" y="402" width="5" height="22" fill="#000"/><rect x="776" y="403" width="3" height="20" fill="#fff"/><rect x="785" y="405" width="1" height="29" fill="#000"/><rect x="783" y="411" width="5" height="19" fill="#000"/><rect x="793" y="384" width="1" height="37" fill="#000"/><rect x="791" y="387" width="5" height="23" fill="#000"/><rect x="801" y="407" width="1" height="49" fill="#000"/><rect x="799" y="439" width="5" height="17" fill="#000"/><rect x="800" y="440" width="3" height="15" fill="#fff"/><rect x="809" y="393" width="1" height="34" fill="#000"/><rect x="807" y="396" width="5" height="11" fill="#000"/><rect x="808" y="397" width="3" height="9" fill="#fff"/><rect x="817" y="405" width="1" height="42" fill="#000"/><rect x="815" y="418" width="5" height="27" fill="#000"/><rect x="825" y="422" width="1" height="41" fill="#000"/><rect x="823" y="423" width="5" height="38" fill="#000"/><rect x="824" y="424" width="3" height="36" fill="#fff"/><rect x="833" y="424" width="1" height="16" fill="#000"/><rect x="831" y="427" width="5" height="10" fill="#000"/><rect x="832" y="428" width="3" height="8" fill="#fff"/><rect x="841" y="386" width="1" height="37" fill="#000"/><rect x="839" y="393" width="5" height="2" fill="#000"/><rect x="849" y="350" width="1" height="44" fill="#000"/><rect x="847" y="351" width="5" height="25" fill="#000"/><rect x="848" y="352" width="3" height="23" fill="#fff"/><rect x="857" y="364" width="1" height="29" fill="#000"/><rect x="855" y="374" width="5" height="19" fill="#000"/><rect x="865" y="356" width="1" height="21" fill="#000"/><rect x="863" y="364" width="5" height="2" fill="#000"/><rect x="873" y="340" width="1" height="23" fill="#000"/><rect x="871" y="353" width="5" height="8" fill="#000"/><rect x="872" y="354" width="3" height="6" fill="#fff"/><rect x="881" y="339" width="1" height="38" fill="#000"/><rect x="879" y="352" width="5" height="24" fill="#000"/><rect x="889" y="370" width="1" height="19" fill="#000"/><rect x="887" y="380" width="5" height="3" fill="#000"/><rect x="888" y="381" width="3" height="1" fill="#fff"/><rect x="897" y="335" width="1" height="27" fill="#000"/><rect x="895" y="346" width="5" height="10" fill="#000"/><rect x="905" y="348" width="1" height="19" fill="#000"/><rect x="903" y="359" width="5" height="2" fill="#000"/><rect x="913" y="362" width="1" height="39" fill="#000"/><rect x="911" y="368" width="5" height="27" fill="#000"/><rect x="921" y="382" width="1" height="31" fill="#000"/><rect x="919" y="386" width="5" height="24" fill="#000"/><rect x="920" y="387" width="3" height="22" fill="#fff"/><rect x="929" y="372" width="1" height="20" fill="#000"/><rect x="927" y="378" width="5" height="5" fill="#000"/><rect x="928" y="379" width="3" height="3" fill="#fff"/><rect x="937" y="389" width="1" height="16" fill="#000"/><rect x="935" y="394" width="5" height="2" fill="#000"/><rect x="945" y="363" width="1" height="21" fill="#000"/><rect x="943" y="366" width="5" height="17" fill="#000"/><rect x="944" y="367" width="3" height="15" fill="#fff"/><rect x="953" y="341" width="1" height="34" fill="#000"/><rect x="951" y="342" width="5" height="17" fill="#000"/><rect x="952" y="343" width="3" height="15" fill="#fff"/><rect x="961" y="329" width="1" height="22" fill="#000"/><rect x="959" y="340" width="5" height="7" fill="#000"/><rect x="969" y="394" width="1" height="27" fill="#000"/><rect x="967" y="397" width="5" height="20" fill="#000"/><rect x="977" y="390" width="1" height="18" fill="#000"/><rect x="975" y="392" width="5" height="10" fill="#000"/><rect x="976" y="393" width="3" height="8" fill="#fff"/><rect x="985" y="369" width="1" height="33" fill="#000"/><rect x="983" y="374" width="5" height="27" fill="#000"/><rect x="984" y="375" width="3" height="25" fill="#fff"/><rect x="993" y="379" width="1" height="13" fill="#000"/><rect x="991" y="383" width="5" height="4" fill="#000"/><rect x="1001" y="366" width="1" height="12" fill="#000"/><rect x="999" y="370" width="5" height="3" fill="#000"/><rect x="1000" y="371" width="3" height="1" fill="#fff"/><rect x="1009" y="334" width="1" height="26" fill="#000"/><rect x="1007" y="347" width="5" height="10" fill="#000"/><rect x="1008" y="348" width="3" height="8" fill="#fff"/><rect x="1017" y="358" width="1" height="20" fill="#000"/><rect x="1015" y="363" width="5" height="6" fill="#000"/><rect x="1025" y="362" width="1" height="24" fill="#000"/><rect x="1023" y="374" width="5" height="8" fill="#000"/><rect x="1024" y="375" width="3" height="6" fill="#fff"/><rect x="1033" y="379" width="1" height="22" fill="#000"/><rect x="1031" y="381" width="5" height="17" fill="#000"/><rect x="1041" y="384" width="1" height="22" fill="#000"/><rect x="1039" y="391" width="5" height="8" fill="#000"/><rect x="1049" y="381" width="1" height="22" fill="#000"/><rect x="1047" y="382" width="5" height="21" fill="#000"/><rect x="1048" y="383" width="3" height="19" fill="#fff"/><rect x="1057" y="344" width="1" height="19" fill="#000"/><rect x="1055" y="357" width="5" height="3" fill="#000"/><rect x="1056" y="358" width="3" height="1" fill="#fff"/><rect x="1065" y="347" width="1" height="15" fill="#000"/><rect x="1063" y="350" width="5" height="9" fill="#000"/><rect x="1064" y="351" width="3" height="7" fill="#fff"/><rect x="1073" y="348" width="1" height="23" fill="#000"/><rect x="1071" y="354" width="5" height="16" fill="#000"/><rect x="1081" y="396" width="1" height="63" fill="#000"/><rect x="1079" y="396" width="5" height="63" fill="#000"/><rect x="1089" y="443" width="1" height="28" fill="#000"/><rect x="1087" y="448" width="5" height="5" fill="#000"/><rect x="1088" y="449" width="3" height="3" fill="#fff"/><rect x="1097" y="410" width="1" height="22" fill="#000"/><rect x="1095" y="419" width="5" height="13" fill="#000"/><rect x="1096" y="420" width="3" height="11" fill="#fff"/><rect x="1105" y="421" width="1" height="25" fill="#000"/><rect x="1103" y="427" width="5" height="14" fill="#000"/><rect x="1113" y="425" width="1" height="44" fill="#000"/><rect x="1111" y="443" width="5" height="4" fill="#000"/><rect x="1121" y="447" width="1" height="31" fill="#000"/><rect x="1119" y="455" width="5" height="8" fill="#000"/><rect x="1120" y="456" width="3" height="6" fill="#fff"/><rect x="1129" y="398" width="1" height="32" fill="#000"/><rect x="1127" y="414" width="5" height="16" fill="#000"/><rect x="1128" y="415" width="3" height="14" fill="#fff"/><rect x="1137" y="380" width="1" height="28" fill="#000"/><rect x="1135" y="381" width="5" height="21" fill="#000"/><rect x="1136" y="382" width="3" height="19" fill="#fff"/><rect x="1145" y="355" width="1" height="18" fill="#000"/><rect x="1143" y="355" width="5" height="9" fill="#000"/><rect x="1153" y="342" width="1" height="29" fill="#000"/><rect x="1151" y="344" width="5" height="16" fill="#000"/><rect x="1161" y="329" width="1" height="39" fill="#000"/><rect x="1159" y="334" width="5" height="29" fill="#000"/><rect x="1160" y="335" width="3" height="27" fill="#fff"/><rect x="1169" y="316" width="1" height="25" fill="#000"/><rect x="1167" y="319" width="5" height="13" fill="#000"/><rect x="1177" y="304" width="1" height="29" fill="#000"/><rect x="1175" y="324" width="5" height="6" fill="#000"/><rect x="1176" y="325" width="3" height="4" fill="#fff"/><rect x="1185" y="300" width="1" height="23" fill="#000"/><rect x="1183" y="314" width="5" height="2" fill="#000"/><rect x="1193" y="315" width="1" height="43" fill="#000"/><rect x="1191" y="321" width="5" height="35" fill="#000"/><rect x="1201" y="363" width="1" height="28" fill="#000"/><rect x="1199" y="364" width="5" height="21" fill="#000"/><rect x="1200" y="365" width="3" height="19" fill="#fff"/><rect x="1209" y="368" width="1" height="38" fill="#000"/><rect x="1207" y="384" width="5" height="13" fill="#000"/><rect x="1217" y="348" width="1" height="17" fill="#000"/><rect x="1215" y="355" width="5" height="1" fill="#000"/><rect x="1225" y="348" width="1" height="25" fill="#000"/><rect x="1223" y="353" width="5" height="6" fill="#000"/><rect x="1224" y="354" width="3" height="4" fill="#fff"/><rect x="1233" y="350" width="1" height="27" fill="#000"/><rect x="1231" y="357" width="5" height="4" fill="#000"/><rect x="1232" y="358" width="3" height="2" fill="#fff"/><rect x="1241" y="332" width="1" height="32" fill="#000"/><rect x="1239" y="339" width="5" height="21" fill="#000"/><rect x="1240" y="340" width="3" height="19" fill="#fff"/><rect x="1249" y="339" width="1" height="17" fill="#000"/><rect x="1247" y="349" width="5" height="6" fill="#000"/><rect x="1248" y="350" width="3" height="4" fill="#fff"/><rect x="1257" y="316" width="1" height="54" fill="#000"/><rect x="1255" y="318" width="5" height="19" fill="#000"/><rect x="1256" y="319" width="3" height="17" fill="#fff"/><rect x="1265" y="318" width="1" height="32" fill="#000"/><rect x="1263" y="322" width="5" height="24" fill="#000"/><rect x="1273" y="341" width="1" height="20" fill="#000"/><rect x="1271" y="357" width="5" height="4" fill="#000"/><rect x="1272" y="358" width="3" height="2" fill="#fff"/><rect x="1281" y="351" width="1" height="32" fill="#000"/><rect x="1279" y="361" width="5" height="14" fill="#000"/><rect x="1289" y="352" width="1" height="33" fill="#000"/><rect x="1287" y="355" width="5" height="8" fill="#000"/><rect x="1297" y="306" width="1" height="49" fill="#000"/><rect x="1295" y="307" width="5" height="42" fill="#000"/><rect x="1296" y="308" width="3" height="40" fill="#fff"/><rect x="1305" y="289" width="1" height="23" fill="#000"/><rect x="1303" y="297" width="5" height="14" fill="#000"/><rect x="1304" y="298" width="3" height="12" fill="#fff"/><rect x="1313" y="226" width="1" height="60" fill="#000"/><rect x="1311" y="232" width="5" height="53" fill="#000"/><rect x="1312" y="233" width="3" height="51" fill="#fff"/><rect x="1321" y="204" width="1" height="53" fill="#000"/><rect x="1319" y="214" width="5" height="42" fill="#000"/><rect x="1329" y="238" width="1" height="24" fill="#000"/><rect x="1327" y="246" width="5" height="5" fill="#000"/><rect x="1337" y="229" width="1" height="25" fill="#000"/><rect x="1335" y="236" width="5" height="2" fill="#000"/><rect x="1345" y="243" width="1" height="39" fill="#000"/><rect x="1343" y="252" width="5" height="21" fill="#000"/><rect x="1353" y="246" width="1" height="24" fill="#000"/><rect x="1351" y="263" width="5" height="7" fill="#000"/><rect x="1361" y="273" width="1" height="27" fill="#000"/><rect x="1359" y="275" width="5" height="11" fill="#000"/><rect x="1369" y="260" width="1" height="32" fill="#000"/><rect x="1367" y="267" width="5" height="19" fill="#000"/><rect x="1377" y="277" width="1" height="46" fill="#000"/><rect x="1375" y="280" width="5" height="36" fill="#000"/><rect x="1385" y="299" width="1" height="17" fill="#000"/><rect x="1383" y="305" width="5" height="2" fill="#000"/><rect x="1393" y="314" width="1" height="19" fill="#000"/><rect x="1391" y="315" width="5" height="1" fill="#000"/><rect x="1401" y="277" width="1" height="18" fill="#000"/><rect x="1399" y="277" width="5" height="15" fill="#000"/><rect x="1400" y="278" width="3" height="13" fill="#fff"/><rect x="1409" y="274" width="1" height="41" fill="#000"/><rect x="1407" y="282" width="5" height="28" fill="#000"/><rect x="1417" y="295" width="1" height="19" fill="#000"/><rect x="1415" y="302" width="5" height="6" fill="#000"/><rect x="1416" y="303" width="3" height="4" fill="#fff"/><rect x="1425" y="309" width="1" height="32" fill="#000"/><rect x="1423" y="320" width="5" height="16" fill="#000"/><rect x="1433" y="318" width="1" height="27" fill="#000"/><rect x="1431" y="320" width="5" height="19" fill="#000"/><rect x="1441" y="318" width="1" height="20" fill="#000"/><rect x="1439" y="321" width="5" height="13" fill="#000"/><rect x="1449" y="322" width="1" height="16" fill="#000"/><rect x="1447" y="325" width="5" height="9" fill="#000"/><rect x="1448" y="326" width="3" height="7" fill="#fff"/></g><g clip-path="url(#cm)"><rect x="1349" y="315" width="128" height="7" fill="#00ff00" shape-rendering="crispEdges"/><g shape-rendering="crispEdges"><rect x="1058" y="318" width="8" height="1" fill="#ff0000"/><rect x="1065.5" y="316.5" width="2" height="3" fill="#fff" stroke="#ff0000" stroke-width="1"/><rect x="1068.5" y="306.5" width="73" height="24" fill="#fff" stroke="#ff0000" stroke-width="1"/></g><text x="1069.4" y="326.7" font-size="23" fill="#ff0000" textLength="71.6" lengthAdjust="spacingAndGlyphs" >24949.9</text><line x1="1289" y1="385" x2="1320" y2="225" stroke="#ff0000" stroke-width="3.2"/><line x1="1320" y1="225" x2="1315.8" y2="230.6" stroke="#ff0000" stroke-width="3.2" stroke-linecap="round"/><line x1="1320" y1="225" x2="1321.8" y2="231.8" stroke="#ff0000" stroke-width="3.2" stroke-linecap="round"/><line x1="1320" y1="225" x2="1388" y2="323" stroke="#ff0000" stroke-width="3.2"/><line x1="1388" y1="323" x2="1387.4" y2="319.0" stroke="#ff0000" stroke-width="3.2" stroke-linecap="round"/><line x1="1388" y1="323" x2="1384.5" y2="321.0" stroke="#ff0000" stroke-width="3.2" stroke-linecap="round"/><line x1="1390" y1="318" x2="1406.5" y2="263" stroke="#ff0000" stroke-width="3.2"/><line x1="1406.5" y1="263" x2="1401.1" y2="268.9" stroke="#ff0000" stroke-width="3.2" stroke-linecap="round"/><line x1="1406.5" y1="263" x2="1407.8" y2="270.9" stroke="#ff0000" stroke-width="3.2" stroke-linecap="round"/><line x1="1406.5" y1="263" x2="1444" y2="345" stroke="#ff0000" stroke-width="3.2"/><line x1="1444" y1="345" x2="1444.1" y2="339.0" stroke="#ff0000" stroke-width="3.2" stroke-linecap="round"/><line x1="1444" y1="345" x2="1439.4" y2="341.2" stroke="#ff0000" stroke-width="3.2" stroke-linecap="round"/><rect x="1414.5" y="317.5" width="52" height="25" fill="none" stroke="#0000ff" stroke-width="3" shape-rendering="crispEdges"/></g><text x="1507" y="329" font-size="21" font-weight="bold" fill="#00ff00" font-family="Liberation Serif, Noto Serif CJK SC, serif" textLength="112" lengthAdjust="spacing">多空转折点</text><text x="1690" y="52" font-size="10" fill="#000" stroke="#000" stroke-width="0.15" textLength="33" lengthAdjust="spacingAndGlyphs" >29298.0</text><text x="1690" y="85" font-size="10" fill="#000" stroke="#000" stroke-width="0.15" textLength="33" lengthAdjust="spacingAndGlyphs" >28770.0</text><text x="1690" y="118" font-size="10" fill="#000" stroke="#000" stroke-width="0.15" textLength="33" lengthAdjust="spacingAndGlyphs" >28242.0</text><text x="1690" y="151" font-size="10" fill="#000" stroke="#000" stroke-width="0.15" textLength="33" lengthAdjust="spacingAndGlyphs" >27698.0</text><text x="1690" y="184" font-size="10" fill="#000" stroke="#000" stroke-width="0.15" textLength="33" lengthAdjust="spacingAndGlyphs" >27170.0</text><text x="1690" y="217" font-size="10" fill="#000" stroke="#000" stroke-width="0.15" textLength="33" lengthAdjust="spacingAndGlyphs" >26642.0</text><text x="1690" y="250" font-size="10" fill="#000" stroke="#000" stroke-width="0.15" textLength="33" lengthAdjust="spacingAndGlyphs" >26114.0</text><text x="1690" y="283" font-size="10" fill="#000" stroke="#000" stroke-width="0.15" textLength="33" lengthAdjust="spacingAndGlyphs" >25586.0</text><text x="1690" y="316" font-size="10" fill="#000" stroke="#000" stroke-width="0.15" textLength="33" lengthAdjust="spacingAndGlyphs" >25042.0</text><text x="1690" y="349" font-size="10" fill="#000" stroke="#000" stroke-width="0.15" textLength="33" lengthAdjust="spacingAndGlyphs" >24514.0</text><text x="1690" y="382" font-size="10" fill="#000" stroke="#000" stroke-width="0.15" textLength="33" lengthAdjust="spacingAndGlyphs" >23986.0</text><text x="1690" y="415" font-size="10" fill="#000" stroke="#000" stroke-width="0.15" textLength="33" lengthAdjust="spacingAndGlyphs" >23458.0</text><text x="1690" y="448" font-size="10" fill="#000" stroke="#000" stroke-width="0.15" textLength="33" lengthAdjust="spacingAndGlyphs" >22914.0</text><text x="1690" y="481" font-size="10" fill="#000" stroke="#000" stroke-width="0.15" textLength="33" lengthAdjust="spacingAndGlyphs" >22386.0</text><text x="1690" y="514" font-size="10" fill="#000" stroke="#000" stroke-width="0.15" textLength="33" lengthAdjust="spacingAndGlyphs" >21858.0</text><text x="1690" y="547" font-size="10" fill="#000" stroke="#000" stroke-width="0.15" textLength="33" lengthAdjust="spacingAndGlyphs" >21330.0</text><text x="1690" y="580" font-size="10" fill="#000" stroke="#000" stroke-width="0.15" textLength="33" lengthAdjust="spacingAndGlyphs" >20802.0</text><rect x="1686" y="274" width="41" height="11" fill="#ff0000" shape-rendering="crispEdges"/><text x="1690" y="283" font-size="10" fill="#fff" stroke="#fff" stroke-width="0.15" textLength="33" lengthAdjust="spacingAndGlyphs" >25560.8</text><rect x="1686" y="294" width="41" height="11" fill="#ff0000" shape-rendering="crispEdges"/><text x="1690" y="303" font-size="10" fill="#fff" stroke="#fff" stroke-width="0.15" textLength="33" lengthAdjust="spacingAndGlyphs" >25239.2</text><rect x="1686" y="319" width="41" height="11" fill="#000000" shape-rendering="crispEdges"/><text x="1690" y="328" font-size="10" fill="#fff" stroke="#fff" stroke-width="0.15" textLength="33" lengthAdjust="spacingAndGlyphs" >24851.0</text><rect x="1686" y="312" width="41" height="11" fill="#32cd32" shape-rendering="crispEdges"/><text x="1690" y="321" font-size="10" fill="#fff" stroke="#fff" stroke-width="0.15" textLength="33" lengthAdjust="spacingAndGlyphs" >24949.9</text><rect x="1686" y="352" width="41" height="11" fill="#0000ff" shape-rendering="crispEdges"/><text x="1690" y="361" font-size="10" fill="#fff" stroke="#fff" stroke-width="0.15" textLength="33" lengthAdjust="spacingAndGlyphs" >24306.8</text><rect x="1686" y="378" width="41" height="11" fill="#0000ff" shape-rendering="crispEdges"/><text x="1690" y="387" font-size="10" fill="#fff" stroke="#fff" stroke-width="0.15" textLength="33" lengthAdjust="spacingAndGlyphs" >23888.8</text><g clip-path="url(#cd)" shape-rendering="crispEdges"><rect x="1" y="615" width="1" height="18" fill="#c0c0c0"/><rect x="9" y="611" width="1" height="22" fill="#c0c0c0"/><rect x="17" y="608" width="1" height="25" fill="#c0c0c0"/><rect x="25" y="605" width="1" height="28" fill="#c0c0c0"/><rect x="33" y="604" width="1" height="29" fill="#c0c0c0"/><rect x="41" y="608" width="1" height="25" fill="#c0c0c0"/><rect x="49" y="612" width="1" height="21" fill="#c0c0c0"/><rect x="57" y="618" width="1" height="15" fill="#c0c0c0"/><rect x="65" y="624" width="1" height="9" fill="#c0c0c0"/><rect x="73" y="630" width="1" height="3" fill="#c0c0c0"/><rect x="81" y="631" width="1" height="2" fill="#c0c0c0"/><rect x="89" y="631" width="1" height="2" fill="#c0c0c0"/><rect x="97" y="632" width="1" height="1" fill="#c0c0c0"/><rect x="105" y="632" width="1" height="1" fill="#c0c0c0"/><rect x="113" y="632" width="1" height="1" fill="#c0c0c0"/><rect x="121" y="632" width="1" height="1" fill="#c0c0c0"/><rect x="129" y="631" width="1" height="2" fill="#c0c0c0"/><rect x="137" y="632" width="1" height="1" fill="#c0c0c0"/><rect x="145" y="632" width="1" height="1" fill="#c0c0c0"/><rect x="153" y="632" width="1" height="2" fill="#c0c0c0"/><rect x="161" y="632" width="1" height="4" fill="#c0c0c0"/><rect x="169" y="632" width="1" height="6" fill="#c0c0c0"/><rect x="177" y="632" width="1" height="9" fill="#c0c0c0"/><rect x="185" y="632" width="1" height="11" fill="#c0c0c0"/><rect x="193" y="632" width="1" height="10" fill="#c0c0c0"/><rect x="201" y="632" width="1" height="9" fill="#c0c0c0"/><rect x="209" y="632" width="1" height="8" fill="#c0c0c0"/><rect x="217" y="632" width="1" height="6" fill="#c0c0c0"/><rect x="225" y="632" width="1" height="4" fill="#c0c0c0"/><rect x="233" y="630" width="1" height="3" fill="#c0c0c0"/><rect x="241" y="625" width="1" height="8" fill="#c0c0c0"/><rect x="249" y="619" width="1" height="14" fill="#c0c0c0"/><rect x="257" y="614" width="1" height="19" fill="#c0c0c0"/><rect x="265" y="612" width="1" height="21" fill="#c0c0c0"/><rect x="273" y="609" width="1" height="24" fill="#c0c0c0"/><rect x="281" y="607" width="1" height="26" fill="#c0c0c0"/><rect x="289" y="606" width="1" height="27" fill="#c0c0c0"/><rect x="297" y="603" width="1" height="30" fill="#c0c0c0"/><rect x="305" y="600" width="1" height="33" fill="#c0c0c0"/><rect x="313" y="599" width="1" height="34" fill="#c0c0c0"/><rect x="321" y="596" width="1" height="37" fill="#c0c0c0"/><rect x="329" y="596" width="1" height="37" fill="#c0c0c0"/><rect x="337" y="598" width="1" height="35" fill="#c0c0c0"/><rect x="345" y="598" width="1" height="35" fill="#c0c0c0"/><rect x="353" y="601" width="1" height="32" fill="#c0c0c0"/><rect x="361" y="600" width="1" height="33" fill="#c0c0c0"/><rect x="369" y="599" width="1" height="34" fill="#c0c0c0"/><rect x="377" y="597" width="1" height="36" fill="#c0c0c0"/><rect x="385" y="598" width="1" height="35" fill="#c0c0c0"/><rect x="393" y="597" width="1" height="36" fill="#c0c0c0"/><rect x="401" y="597" width="1" height="36" fill="#c0c0c0"/><rect x="409" y="597" width="1" height="36" fill="#c0c0c0"/><rect x="417" y="599" width="1" height="34" fill="#c0c0c0"/><rect x="425" y="606" width="1" height="27" fill="#c0c0c0"/><rect x="433" y="610" width="1" height="23" fill="#c0c0c0"/><rect x="441" y="616" width="1" height="17" fill="#c0c0c0"/><rect x="449" y="621" width="1" height="12" fill="#c0c0c0"/><rect x="457" y="630" width="1" height="3" fill="#c0c0c0"/><rect x="465" y="632" width="1" height="9" fill="#c0c0c0"/><rect x="473" y="632" width="1" height="19" fill="#c0c0c0"/><rect x="481" y="632" width="1" height="27" fill="#c0c0c0"/><rect x="489" y="632" width="1" height="29" fill="#c0c0c0"/><rect x="497" y="632" width="1" height="31" fill="#c0c0c0"/><rect x="505" y="632" width="1" height="27" fill="#c0c0c0"/><rect x="513" y="632" width="1" height="24" fill="#c0c0c0"/><rect x="521" y="632" width="1" height="23" fill="#c0c0c0"/><rect x="529" y="632" width="1" height="20" fill="#c0c0c0"/><rect x="537" y="632" width="1" height="14" fill="#c0c0c0"/><rect x="545" y="632" width="1" height="12" fill="#c0c0c0"/><rect x="553" y="632" width="1" height="9" fill="#c0c0c0"/><rect x="561" y="632" width="1" height="5" fill="#c0c0c0"/><rect x="569" y="632" width="1" height="6" fill="#c0c0c0"/><rect x="577" y="632" width="1" height="5" fill="#c0c0c0"/><rect x="585" y="632" width="1" height="5" fill="#c0c0c0"/><rect x="593" y="632" width="1" height="7" fill="#c0c0c0"/><rect x="601" y="632" width="1" height="11" fill="#c0c0c0"/><rect x="609" y="632" width="1" height="14" fill="#c0c0c0"/><rect x="617" y="632" width="1" height="18" fill="#c0c0c0"/><rect x="625" y="632" width="1" height="20" fill="#c0c0c0"/><rect x="633" y="632" width="1" height="24" fill="#c0c0c0"/><rect x="641" y="632" width="1" height="27" fill="#c0c0c0"/><rect x="649" y="632" width="1" height="28" fill="#c0c0c0"/><rect x="657" y="632" width="1" height="30" fill="#c0c0c0"/><rect x="665" y="632" width="1" height="28" fill="#c0c0c0"/><rect x="673" y="632" width="1" height="30" fill="#c0c0c0"/><rect x="681" y="632" width="1" height="39" fill="#c0c0c0"/><rect x="689" y="632" width="1" height="42" fill="#c0c0c0"/><rect x="697" y="632" width="1" height="46" fill="#c0c0c0"/><rect x="705" y="632" width="1" height="55" fill="#c0c0c0"/><rect x="713" y="632" width="1" height="63" fill="#c0c0c0"/><rect x="721" y="632" width="1" height="77" fill="#c0c0c0"/><rect x="729" y="632" width="1" height="84" fill="#c0c0c0"/><rect x="737" y="632" width="1" height="96" fill="#c0c0c0"/><rect x="745" y="632" width="1" height="105" fill="#c0c0c0"/><rect x="753" y="632" width="1" height="103" fill="#c0c0c0"/><rect x="761" y="632" width="1" height="111" fill="#c0c0c0"/><rect x="769" y="632" width="1" height="107" fill="#c0c0c0"/><rect x="777" y="632" width="1" height="98" fill="#c0c0c0"/><rect x="785" y="632" width="1" height="92" fill="#c0c0c0"/><rect x="793" y="632" width="1" height="84" fill="#c0c0c0"/><rect x="801" y="632" width="1" height="80" fill="#c0c0c0"/><rect x="809" y="632" width="1" height="71" fill="#c0c0c0"/><rect x="817" y="632" width="1" height="69" fill="#c0c0c0"/><rect x="825" y="632" width="1" height="64" fill="#c0c0c0"/><rect x="833" y="632" width="1" height="60" fill="#c0c0c0"/><rect x="841" y="632" width="1" height="53" fill="#c0c0c0"/><rect x="849" y="632" width="1" height="42" fill="#c0c0c0"/><rect x="857" y="632" width="1" height="37" fill="#c0c0c0"/><rect x="865" y="632" width="1" height="29" fill="#c0c0c0"/><rect x="873" y="632" width="1" height="23" fill="#c0c0c0"/><rect x="881" y="632" width="1" height="19" fill="#c0c0c0"/><rect x="889" y="632" width="1" height="17" fill="#c0c0c0"/><rect x="897" y="632" width="1" height="12" fill="#c0c0c0"/><rect x="905" y="632" width="1" height="9" fill="#c0c0c0"/><rect x="913" y="632" width="1" height="10" fill="#c0c0c0"/><rect x="921" y="632" width="1" height="10" fill="#c0c0c0"/><rect x="929" y="632" width="1" height="8" fill="#c0c0c0"/><rect x="937" y="632" width="1" height="9" fill="#c0c0c0"/><rect x="945" y="632" width="1" height="7" fill="#c0c0c0"/><rect x="953" y="632" width="1" height="1" fill="#c0c0c0"/><rect x="961" y="632" width="1" height="1" fill="#c0c0c0"/><rect x="969" y="632" width="1" height="4" fill="#c0c0c0"/><rect x="977" y="632" width="1" height="4" fill="#c0c0c0"/><rect x="985" y="632" width="1" height="4" fill="#c0c0c0"/><rect x="993" y="632" width="1" height="5" fill="#c0c0c0"/><rect x="1001" y="632" width="1" height="4" fill="#c0c0c0"/><rect x="1009" y="632" width="1" height="1" fill="#c0c0c0"/><rect x="1017" y="632" width="1" height="1" fill="#c0c0c0"/><rect x="1025" y="632" width="1" height="1" fill="#c0c0c0"/><rect x="1033" y="632" width="1" height="2" fill="#c0c0c0"/><rect x="1041" y="632" width="1" height="4" fill="#c0c0c0"/><rect x="1049" y="632" width="1" height="4" fill="#c0c0c0"/><rect x="1057" y="632" width="1" height="1" fill="#c0c0c0"/><rect x="1065" y="631" width="1" height="2" fill="#c0c0c0"/><rect x="1073" y="631" width="1" height="2" fill="#c0c0c0"/><rect x="1081" y="632" width="1" height="8" fill="#c0c0c0"/><rect x="1089" y="632" width="1" height="14" fill="#c0c0c0"/><rect x="1097" y="632" width="1" height="15" fill="#c0c0c0"/><rect x="1105" y="632" width="1" height="18" fill="#c0c0c0"/><rect x="1113" y="632" width="1" height="22" fill="#c0c0c0"/><rect x="1121" y="632" width="1" height="25" fill="#c0c0c0"/><rect x="1129" y="632" width="1" height="22" fill="#c0c0c0"/><rect x="1137" y="632" width="1" height="17" fill="#c0c0c0"/><rect x="1145" y="632" width="1" height="10" fill="#c0c0c0"/><rect x="1153" y="632" width="1" height="4" fill="#c0c0c0"/><rect x="1161" y="631" width="1" height="2" fill="#c0c0c0"/><rect x="1169" y="625" width="1" height="8" fill="#c0c0c0"/><rect x="1177" y="620" width="1" height="13" fill="#c0c0c0"/><rect x="1185" y="615" width="1" height="18" fill="#c0c0c0"/><rect x="1193" y="615" width="1" height="18" fill="#c0c0c0"/><rect x="1201" y="617" width="1" height="16" fill="#c0c0c0"/><rect x="1209" y="622" width="1" height="11" fill="#c0c0c0"/><rect x="1217" y="623" width="1" height="10" fill="#c0c0c0"/><rect x="1225" y="621" width="1" height="12" fill="#c0c0c0"/><rect x="1233" y="620" width="1" height="13" fill="#c0c0c0"/><rect x="1241" y="619" width="1" height="14" fill="#c0c0c0"/><rect x="1249" y="619" width="1" height="14" fill="#c0c0c0"/><rect x="1257" y="617" width="1" height="16" fill="#c0c0c0"/><rect x="1265" y="617" width="1" height="16" fill="#c0c0c0"/><rect x="1273" y="619" width="1" height="14" fill="#c0c0c0"/><rect x="1281" y="623" width="1" height="10" fill="#c0c0c0"/><rect x="1289" y="624" width="1" height="9" fill="#c0c0c0"/><rect x="1297" y="619" width="1" height="14" fill="#c0c0c0"/><rect x="1305" y="615" width="1" height="18" fill="#c0c0c0"/><rect x="1313" y="605" width="1" height="28" fill="#c0c0c0"/><rect x="1321" y="600" width="1" height="33" fill="#c0c0c0"/><rect x="1329" y="595" width="1" height="38" fill="#c0c0c0"/><rect x="1337" y="591" width="1" height="42" fill="#c0c0c0"/><rect x="1345" y="592" width="1" height="41" fill="#c0c0c0"/><rect x="1353" y="593" width="1" height="40" fill="#c0c0c0"/><rect x="1361" y="595" width="1" height="38" fill="#c0c0c0"/><rect x="1369" y="598" width="1" height="35" fill="#c0c0c0"/><rect x="1377" y="604" width="1" height="29" fill="#c0c0c0"/><rect x="1385" y="608" width="1" height="25" fill="#c0c0c0"/><rect x="1393" y="612" width="1" height="21" fill="#c0c0c0"/><rect x="1401" y="612" width="1" height="21" fill="#c0c0c0"/><rect x="1409" y="615" width="1" height="18" fill="#c0c0c0"/><rect x="1417" y="617" width="1" height="16" fill="#c0c0c0"/><rect x="1425" y="622" width="1" height="11" fill="#c0c0c0"/><rect x="1433" y="627" width="1" height="6" fill="#c0c0c0"/><rect x="1441" y="630" width="1" height="3" fill="#c0c0c0"/><rect x="1449" y="631" width="1" height="2" fill="#c0c0c0"/><path fill="none" stroke="#ff0000" stroke-width="1" d="M0 621.5h2M2 620.5h1M6 619.5h3M12 618.5h1M13 617.5h2M18 616.5h3M24 615.5h3M30 614.5h1M31 613.5h2M36 612.5h3M42 611.5h3M48 610.5h3M54 610.5h3M60 610.5h3M66 611.5h3M72 612.5h3M78 613.5h1M79 614.5h2M84 616.5h2M86 617.5h1M90 618.5h1M91 619.5h2M96 620.5h1M97 621.5h2M102 623.5h3M108 624.5h2M110 625.5h1M114 626.5h2M116 627.5h1M120 628.5h1M121 629.5h2M126 630.5h3M132 631.5h3M138 631.5h3M144 631.5h3M150 631.5h3M156 631.5h3M162 632.5h3M168 633.5h3M174 634.5h3M180 634.5h2M182 635.5h1M186 635.5h3M192 636.5h3M198 637.5h3M204 638.5h1M205 639.5h2M210 640.5h3M216 640.5h3M222 640.5h3M228 640.5h1M229 639.5h2M234 639.5h3M240 638.5h2M242 637.5h1M246 636.5h3M252 634.5h1M253 633.5h2M258 631.5h1M259 630.5h2M264 628.5h2M266 627.5h1M270 626.5h1M271 625.5h2M276 623.5h1M277 622.5h2M282 620.5h1M283 619.5h2M288 617.5h1M289 616.5h2M294 614.5h1M295 613.5h2M300 611.5h3M306 609.5h3M312 607.5h2M314 606.5h1M318 605.5h2M320 604.5h1M324 604.5h1M325 603.5h2M330 602.5h3M336 601.5h3M342 600.5h1M343 599.5h2M348 599.5h3M354 598.5h3M360 598.5h3M366 598.5h3M372 597.5h3M378 597.5h3M384 597.5h3M390 597.5h3M396 597.5h3M402 597.5h3M408 597.5h3M414 597.5h3M420 597.5h3M426 597.5h3M432 598.5h2M434 599.5h1M438 600.5h1M439 601.5h2M444 602.5h1M445 603.5h2M450 604.5h1M451 605.5h2M456 607.5h2M458 608.5h1M462 611.5h1M463 612.5h2M468 615.5h1M469 616.5h1M470 617.5h1M474 620.5h1M475 621.5h2M480 625.5h2M482 626.5h1M486 629.5h1M487 630.5h1M488 631.5h1M492 634.5h1M493 635.5h1M494 636.5h1M498 639.5h1M499 640.5h1M500 641.5h1M504 644.5h2M506 645.5h1M510 648.5h1M511 649.5h2M516 651.5h1M517 652.5h2M522 653.5h1M523 654.5h2M528 655.5h3M534 656.5h3M540 655.5h3M546 654.5h3M552 653.5h3M558 652.5h2M560 651.5h1M564 650.5h2M566 649.5h1M570 648.5h2M572 647.5h1M576 646.5h2M578 645.5h1M582 644.5h2M584 643.5h1M588 642.5h3M594 641.5h3M600 640.5h3M606 640.5h3M612 641.5h3M618 641.5h3M624 642.5h3M630 643.5h3M636 644.5h1M637 645.5h2M642 647.5h3M648 649.5h2M650 650.5h1M654 651.5h3M660 653.5h3M666 654.5h1M667 655.5h2M672 656.5h2M674 657.5h1M678 658.5h2M680 659.5h1M684 660.5h3M690 661.5h2M692 662.5h1M696 664.5h2M698 665.5h1M702 667.5h2M704 668.5h1M708 670.5h2M710 671.5h1M714 673.5h2M716 674.5h1M720 677.5h1M721 678.5h1M722 679.5h1M726 682.5h1M727 683.5h2M732 686.5h1M733 687.5h1M734 688.5h1M738 691.5h1M739 692.5h1M740 693.5h1M744 697.5h1M745 698.5h1M746 699.5h1M750 703.5h1M751 704.5h1M752 705.5h1M756 709.5h2M758 710.5h1M762 714.5h1M763 715.5h1M764 716.5h1M768 719.5h1M769 720.5h1M770 721.5h1M774 724.5h1M775 725.5h2M780 727.5h2M782 728.5h1M786 729.5h3M792 730.5h3M798 729.5h3M804 728.5h2M806 727.5h1M810 726.5h1M811 725.5h2M816 723.5h1M817 722.5h2M822 720.5h1M823 719.5h2M828 716.5h1M829 715.5h2M834 712.5h1M835 711.5h1M836 710.5h1M840 707.5h1M841 706.5h1M842 705.5h1M846 702.5h1M847 701.5h2M852 698.5h1M853 697.5h1M854 696.5h1M858 693.5h1M859 692.5h2M864 689.5h1M865 688.5h1M866 687.5h1M870 684.5h1M871 683.5h2M876 680.5h1M877 679.5h1M878 678.5h1M882 675.5h1M883 674.5h1M884 673.5h1M888 670.5h1M889 669.5h1M890 668.5h1M894 665.5h2M896 664.5h1M900 662.5h1M901 661.5h1M902 660.5h1M906 658.5h1M907 657.5h2M912 654.5h2M914 653.5h1M918 651.5h2M920 650.5h1M924 649.5h1M925 648.5h2M930 647.5h2M932 646.5h1M936 645.5h3M942 644.5h1M943 643.5h2M948 642.5h2M950 641.5h1M954 640.5h3M960 639.5h3M966 638.5h3M972 638.5h3M978 638.5h3M984 638.5h3M990 637.5h3M996 637.5h3M1002 636.5h3M1008 635.5h3M1014 634.5h3M1020 634.5h3M1026 634.5h3M1032 634.5h3M1038 634.5h3M1044 634.5h3M1050 634.5h3M1056 634.5h3M1062 633.5h3M1068 633.5h3M1074 633.5h3M1080 633.5h1M1081 634.5h2M1086 635.5h3M1092 636.5h3M1098 637.5h2M1100 638.5h1M1104 639.5h3M1110 640.5h1M1111 641.5h2M1116 642.5h3M1122 643.5h1M1123 644.5h2M1128 645.5h3M1134 646.5h1M1135 647.5h2M1140 648.5h2M1142 649.5h1M1146 649.5h2M1148 648.5h1M1152 648.5h3M1158 647.5h2M1160 646.5h1M1164 645.5h3M1170 644.5h1M1171 643.5h2M1176 642.5h1M1177 641.5h2M1182 638.5h2M1184 637.5h1M1188 635.5h1M1189 634.5h1M1190 633.5h1M1194 630.5h2M1196 629.5h1M1200 627.5h3M1206 625.5h2M1208 624.5h1M1212 623.5h3M1218 621.5h3M1224 620.5h2M1226 619.5h1M1230 619.5h3M1236 618.5h3M1242 618.5h3M1248 618.5h3M1254 618.5h3M1260 618.5h3M1266 619.5h3M1272 619.5h3M1278 619.5h3M1284 619.5h3M1290 619.5h3M1296 619.5h3M1302 618.5h3M1308 618.5h2M1310 617.5h1M1314 617.5h1M1315 616.5h2M1320 615.5h1M1321 614.5h2M1326 613.5h1M1327 612.5h2M1332 611.5h2M1334 610.5h1M1338 609.5h2M1340 608.5h1M1344 606.5h3M1350 604.5h2M1352 603.5h1M1356 602.5h3M1362 600.5h3M1368 598.5h3M1374 596.5h3M1380 596.5h3M1386 596.5h2M1388 597.5h1M1392 598.5h3M1398 599.5h2M1400 600.5h1M1404 601.5h2M1406 602.5h1M1410 603.5h3M1416 604.5h1M1417 605.5h2M1422 606.5h2M1424 607.5h1M1428 609.5h2M1430 610.5h1M1434 612.5h3M1440 614.5h1M1441 615.5h2M1446 617.5h1"/></g><text x="-1.5" y="594" font-size="10" fill="#000" stroke="#000" stroke-width="0.15" textLength="121.5" lengthAdjust="spacingAndGlyphs" >MACD(12,26,9) 25.59 169.50</text><text x="1688" y="592" font-size="10" fill="#000" stroke="#000" stroke-width="0.15" textLength="28" lengthAdjust="spacingAndGlyphs" >596.11</text><text x="1688" y="636" font-size="10" fill="#000" stroke="#000" stroke-width="0.15" textLength="18" lengthAdjust="spacingAndGlyphs" >0.00</text><text x="1688" y="748" font-size="10" fill="#000" stroke="#000" stroke-width="0.15" textLength="36" lengthAdjust="spacingAndGlyphs" >-1415.19</text><g clip-path="url(#cr)" shape-rendering="crispEdges"><line x1="0" y1="789.5" x2="1684" y2="789.5" stroke="#c0c0c0" stroke-width="1" stroke-dasharray="3,3"/><line x1="0" y1="840.5" x2="1684" y2="840.5" stroke="#c0c0c0" stroke-width="1" stroke-dasharray="3,3"/><line x1="0" y1="901.5" x2="1684" y2="901.5" stroke="#c0c0c0" stroke-width="1" stroke-dasharray="3,3"/><path fill="none" stroke="#1e90ff" stroke-width="1" d="M1 810.5h2M3 809.5h4M7 808.5h6M13 807.5h6M19 806.5h4M23 805.5h3M26 806.5h1M27 807.5h1M28 808.5h1M29 809.5h2M31 810.5h1M32 811.5h1M33.5 812v2M34.5 814v3M35.5 817v4M36.5 821v3M37.5 824v3M38.5 827v3M39.5 830v4M40.5 834v3M41.5 837v2M42 838.5h3M45 839.5h5M50.5 840v2M51.5 842v2M52 844.5h1M53.5 845v2M54 847.5h1M55.5 848v2M56.5 850v2M57 852.5h1M58 853.5h2M60 854.5h1M61 855.5h2M63 856.5h2M65 857.5h2M67 858.5h4M71 859.5h3M74.5 857v2M75.5 855v2M76.5 853v2M77.5 851v2M78.5 849v2M79.5 847v2M80.5 845v2M81 844.5h1M82 843.5h1M83.5 841v2M84 840.5h1M85 839.5h1M86 838.5h1M87.5 836v2M88 835.5h1M89 834.5h1M90 835.5h1M91 836.5h2M93 837.5h1M94 838.5h1M95 839.5h2M97 840.5h1M98 841.5h1M99.5 842v2M100 844.5h1M101 845.5h1M102 846.5h1M103.5 847v2M104 849.5h1M105 850.5h1M106 849.5h2M108 848.5h1M109 847.5h2M111 846.5h2M113 845.5h1M114 844.5h1M115.5 842v2M116 841.5h1M117 840.5h1M118 839.5h1M119.5 837v2M120 836.5h1M121 835.5h4M125 836.5h8M133 835.5h5M138 836.5h2M140 837.5h2M142 838.5h2M144 839.5h2M146.5 840v2M147.5 842v2M148.5 844v2M149 846.5h1M150.5 847v2M151.5 849v2M152.5 851v2M153 853.5h1M154 852.5h2M156 851.5h2M158 850.5h2M160 849.5h3M163 850.5h4M167 851.5h3M170 852.5h1M171 853.5h1M172 854.5h1M173 855.5h1M174 856.5h1M175 857.5h1M176 858.5h1M177 859.5h1M178 858.5h1M179 857.5h2M181 856.5h1M182 855.5h1M183 854.5h2M185 853.5h1M186 852.5h1M187 851.5h1M188 850.5h1M189 849.5h1M190 848.5h1M191 847.5h1M192 846.5h1M193 845.5h10M203 846.5h4M207 847.5h3M210 846.5h1M211 845.5h1M212 844.5h1M213 843.5h1M214 842.5h1M215 841.5h1M216 840.5h1M217 839.5h1M218 838.5h1M219.5 836v2M220 835.5h1M221 834.5h1M222 833.5h1M223.5 831v2M224 830.5h1M225 829.5h1M226.5 827v2M227.5 825v2M228.5 823v2M229 822.5h1M230.5 820v2M231.5 818v2M232.5 816v2M233 815.5h1M234 816.5h2M236 817.5h2M238 818.5h2M240 819.5h2M242 818.5h2M244 817.5h1M245 816.5h2M247 815.5h2M249 814.5h4M253 813.5h5M258 814.5h2M260 815.5h2M262 816.5h2M264 817.5h3M267 816.5h2M269 815.5h3M272 814.5h3M275 815.5h2M277 816.5h3M280 817.5h3M283 816.5h4M287 815.5h3M290 814.5h1M291 813.5h1M292 812.5h1M293 811.5h1M294 810.5h1M295 809.5h1M296 808.5h1M297 807.5h4M301 806.5h5M306 807.5h2M308 808.5h1M309 809.5h2M311 810.5h2M313 811.5h1M314 810.5h1M315 809.5h2M317 808.5h1M318 807.5h1M319 806.5h2M321 805.5h1M322 806.5h1M323 807.5h1M324 808.5h1M325 809.5h2M327 810.5h1M328 811.5h1M329 812.5h1M330 813.5h1M331.5 814v2M332 816.5h1M333 817.5h1M334 818.5h1M335.5 819v2M336 821.5h1M337 822.5h1M338 821.5h2M340 820.5h2M342 819.5h2M344 818.5h2M346.5 819v2M347 821.5h1M348 822.5h1M349.5 823v2M350 825.5h1M351 826.5h1M352.5 827v2M353 829.5h1M354.5 827v2M355 826.5h1M356.5 824v2M357 823.5h1M358.5 821v2M359 820.5h1M360.5 818v2M361 817.5h4M365 816.5h5M370 815.5h1M371 814.5h2M373 813.5h1M374 812.5h1M375 811.5h2M377 810.5h1M378 811.5h1M379 812.5h2M381 813.5h1M382 814.5h1M383 815.5h2M385 816.5h2M387 817.5h4M391 818.5h4M395 817.5h2M397 816.5h3M400 815.5h2M402 814.5h2M404 813.5h2M406 812.5h2M408 811.5h2M410.5 812v2M411.5 814v2M412.5 816v2M413 818.5h1M414.5 819v2M415.5 821v2M416.5 823v2M417.5 825v2M418.5 827v3M419.5 830v2M420.5 832v3M421.5 835v3M422.5 838v3M423.5 841v2M424.5 843v3M425 846.5h2M425 847.5h1M427 845.5h1M428 844.5h1M429.5 842v2M430 841.5h1M431 840.5h1M432 839.5h1M433 838.5h1M434 839.5h1M435.5 840v2M436 842.5h1M437 843.5h1M438 844.5h1M439.5 845v2M440 847.5h1M441 848.5h4M445 847.5h5M450.5 848v2M451.5 850v2M452.5 852v2M453.5 854v2M454.5 856v2M455.5 858v2M456.5 860v2M457 862.5h1M458 863.5h1M459.5 864v2M460 866.5h1M461 867.5h1M462 868.5h1M463.5 869v2M464 871.5h1M465 872.5h4M469 873.5h8M477 874.5h5M482.5 872v2M483.5 870v2M484.5 868v2M485.5 866v2M486.5 864v2M487.5 862v2M488.5 860v2M489 858.5h4M489 859.5h1M493 859.5h5M498.5 857v2M499.5 855v2M500.5 853v2M501.5 851v2M502.5 849v2M503.5 847v2M504.5 845v2M505 844.5h2M507 845.5h4M511 846.5h3M514 847.5h2M516 848.5h2M518 849.5h2M520 850.5h2M522.5 848v2M523 847.5h1M524.5 845v2M525 844.5h1M526.5 842v2M527 841.5h1M528.5 839v2M529 838.5h2M531 837.5h2M533 836.5h3M536 835.5h3M539 836.5h2M541 837.5h3M544 838.5h3M547 837.5h4M551 836.5h4M555 835.5h4M559 834.5h3M562 835.5h1M563.5 836v2M564 838.5h1M565 839.5h1M566 840.5h1M567.5 841v2M568 843.5h1M569 844.5h1M570 843.5h2M572 842.5h2M574 841.5h2M576 840.5h2M578 841.5h2M580 842.5h2M582 843.5h2M584 844.5h2M586 845.5h2M588 846.5h1M589 847.5h2M591 848.5h2M593 849.5h1M594.5 850v2M595 852.5h1M596 853.5h1M597.5 854v2M598 856.5h1M599 857.5h1M600.5 858v2M601 860.5h2M603 859.5h2M605 858.5h3M608 857.5h2M610 858.5h2M612 859.5h2M614 860.5h2M616 861.5h2M618 860.5h2M620 859.5h2M622 858.5h2M624 857.5h2M626 858.5h1M627.5 859v2M628 861.5h1M629 862.5h1M630 863.5h1M631.5 864v2M632 866.5h1M633 867.5h1M634 866.5h2M636 865.5h2M638 864.5h2M640 863.5h5M645 862.5h6M651 863.5h2M653 864.5h3M656 865.5h2M657 864.5h1M658.5 862v2M659.5 860v2M660.5 858v2M661.5 856v2M662.5 854v2M663.5 852v2M664.5 850v2M665.5 848v2M666.5 849v2M667.5 851v2M668.5 853v2M669 855.5h1M670.5 856v2M671.5 858v2M672.5 860v2M673 862.5h1M674.5 863v2M675.5 865v2M676.5 867v2M677.5 869v2M678.5 871v2M679.5 873v2M680.5 875v2M681 877.5h1M682.5 875v2M683.5 873v2M684.5 871v2M685 870.5h1M686.5 868v2M687.5 866v2M688.5 864v2M689 863.5h1M690 864.5h2M692 865.5h2M694 866.5h2M696 867.5h2M698.5 868v2M699 870.5h1M700 871.5h1M701.5 872v2M702 874.5h1M703 875.5h1M704.5 876v2M705 878.5h4M709 879.5h5M714 880.5h1M715 881.5h1M716 882.5h1M717.5 883v2M718 885.5h1M719 886.5h1M720 887.5h1M721 888.5h1M722 887.5h1M723 886.5h2M725 885.5h1M726 884.5h1M727 883.5h2M729 882.5h1M730 883.5h1M731 884.5h2M733 885.5h1M734 886.5h1M735 887.5h2M737 888.5h4M741 889.5h5M745 888.5h1M746.5 885v3M747.5 882v3M748.5 879v3M749.5 877v2M750.5 874v3M751.5 871v3M752.5 868v3M753.5 866v2M754.5 867v2M755 869.5h1M756.5 870v2M757 872.5h1M758.5 873v2M759 875.5h1M760.5 876v2M761.5 877v2M762.5 875v2M763.5 873v2M764.5 871v2M765.5 868v3M766.5 866v2M767.5 864v2M768.5 862v2M769.5 860v2M770 859.5h1M771 858.5h1M772 857.5h1M773.5 855v2M774 854.5h1M775 853.5h1M776 852.5h1M777 851.5h2M779 852.5h2M781 853.5h3M784 854.5h3M787 853.5h2M789 852.5h3M792 851.5h2M794 852.5h2M796 853.5h2M798 854.5h2M800 855.5h2M802 854.5h1M803 853.5h1M804 852.5h1M805 851.5h1M806 850.5h1M807 849.5h1M808 848.5h1M809 847.5h1M810 848.5h1M811 849.5h1M812 850.5h1M813 851.5h2M815 852.5h1M816 853.5h1M817 854.5h1M818 853.5h2M820 852.5h2M822 851.5h2M824 850.5h5M829 851.5h5M834 850.5h1M835 849.5h1M836 848.5h1M837 847.5h2M839 846.5h1M840 845.5h1M841 844.5h1M842 843.5h1M843 842.5h1M844 841.5h1M845 840.5h1M846 839.5h1M847 838.5h1M848 837.5h1M849 836.5h1M850 837.5h1M851 838.5h1M852 839.5h1M853 840.5h1M854 841.5h1M855 842.5h1M856 843.5h1M857 844.5h1M858 843.5h2M860 842.5h1M861 841.5h2M863 840.5h2M865 839.5h2M867 838.5h2M869 837.5h3M872 836.5h2M874 837.5h2M876 838.5h2M878 839.5h2M880 840.5h3M883 841.5h4M887 842.5h3M890 841.5h2M892 840.5h1M893 839.5h2M895 838.5h2M897 837.5h4M901 838.5h5M906 839.5h1M907 840.5h1M908 841.5h1M909 842.5h2M911 843.5h1M912 844.5h1M913 845.5h2M915 844.5h4M919 843.5h6M925 842.5h5M930 843.5h2M932 844.5h2M934 845.5h2M936 846.5h2M938 845.5h1M939 844.5h1M940 843.5h1M941.5 841v2M942 840.5h1M943 839.5h1M944 838.5h1M945 837.5h1M946 836.5h2M948 835.5h1M949 834.5h2M951 833.5h2M953 832.5h2M955 833.5h4M959 834.5h3M961 835.5h1M962.5 836v2M963.5 838v2M964.5 840v2M965.5 842v2M966.5 844v2M967.5 846v2M968.5 848v2M969 850.5h2M969 851.5h1M971 849.5h2M973 848.5h1M974 847.5h1M975 846.5h2M977 845.5h1M978 844.5h2M980 843.5h1M981 842.5h2M983 841.5h2M985 840.5h2M987 841.5h2M989 842.5h3M992 843.5h2M994 842.5h2M996 841.5h2M998 840.5h2M1000 839.5h2M1002 838.5h1M1003 837.5h2M1005 836.5h1M1006 835.5h1M1007 834.5h2M1009 833.5h1M1010 834.5h1M1011 835.5h2M1013 836.5h1M1014 837.5h1M1015 838.5h2M1017 839.5h4M1021 840.5h5M1026 841.5h1M1027 842.5h1M1028 843.5h1M1029 844.5h2M1031 845.5h1M1032 846.5h1M1033 847.5h9M1042 846.5h2M1044 845.5h1M1045 844.5h2M1047 843.5h2M1049 842.5h1M1050 841.5h1M1051 840.5h1M1052 839.5h1M1053 838.5h2M1055 837.5h1M1056 836.5h1M1057 835.5h2M1059 834.5h4M1063 833.5h3M1066 834.5h1M1067 835.5h2M1069 836.5h1M1070 837.5h1M1071 838.5h2M1073.5 839v2M1074.5 841v3M1075.5 844v2M1076.5 846v3M1077.5 849v3M1078.5 852v3M1079.5 855v2M1080.5 857v3M1081.5 860v2M1082 861.5h1M1083 860.5h2M1085 859.5h3M1088 858.5h2M1090 857.5h1M1091 856.5h1M1092 855.5h1M1093.5 853v2M1094 852.5h1M1095 851.5h1M1096 850.5h1M1097 849.5h1M1098 850.5h2M1100 851.5h1M1101 852.5h2M1103 853.5h2M1105 854.5h4M1109 855.5h6M1115 856.5h4M1119 857.5h3M1122.5 855v2M1123.5 853v2M1124 852.5h1M1125.5 850v2M1126 849.5h1M1127.5 847v2M1128.5 845v2M1129 844.5h1M1130 843.5h1M1131 842.5h1M1132 841.5h1M1133 840.5h1M1134 839.5h1M1135 838.5h1M1136 837.5h1M1137 836.5h1M1138 835.5h2M1140 834.5h1M1141 833.5h2M1143 832.5h2M1145 831.5h4M1149 830.5h5M1154 829.5h1M1155 828.5h2M1157 827.5h1M1158 826.5h1M1159 825.5h2M1161 824.5h10M1171 823.5h4M1175 822.5h4M1179 821.5h2M1181 820.5h3M1184 819.5h2M1186.5 820v2M1187.5 822v2M1188.5 824v2M1189.5 826v2M1190.5 828v2M1191.5 830v2M1192.5 832v2M1193 834.5h2M1195 835.5h2M1197 836.5h3M1200 837.5h2M1202 838.5h1M1203.5 839v2M1204 841.5h1M1205 842.5h1M1206 843.5h1M1207.5 844v2M1208 846.5h1M1209 847.5h1M1210.5 845v2M1211 844.5h1M1212.5 842v2M1213 841.5h1M1214.5 839v2M1215 838.5h1M1216.5 836v2M1217 835.5h4M1221 834.5h8M1229 835.5h5M1234 834.5h2M1236 833.5h1M1237 832.5h2M1239 831.5h2M1241 830.5h1M1242 831.5h2M1244 832.5h2M1246 833.5h2M1248 834.5h2M1250 833.5h1M1251 832.5h1M1252 831.5h1M1253.5 829v2M1254 828.5h1M1255 827.5h1M1256 826.5h1M1257 825.5h1M1258 826.5h1M1259.5 827v2M1260 829.5h1M1261 830.5h1M1262 831.5h1M1263.5 832v2M1264 834.5h1M1265 835.5h1M1266 836.5h2M1268 837.5h2M1270 838.5h2M1272 839.5h2M1274 840.5h2M1276 841.5h1M1277 842.5h2M1279 843.5h2M1281 844.5h1M1282 843.5h2M1284 842.5h2M1286 841.5h2M1288 840.5h2M1290.5 838v2M1291.5 836v2M1292.5 834v2M1293.5 832v2M1294.5 830v2M1295.5 828v2M1296.5 826v2M1297 824.5h2M1297 825.5h1M1299 823.5h4M1303 822.5h3M1306.5 820v2M1307.5 818v2M1308 817.5h1M1309.5 815v2M1310 814.5h1M1311.5 812v2M1312.5 810v2M1313 809.5h1M1314 810.5h1M1315 811.5h1M1316 812.5h1M1317 813.5h1M1318 814.5h1M1319 815.5h1M1320 816.5h1M1321 817.5h4M1325 816.5h6M1331 815.5h4M1335 814.5h3M1338.5 815v2M1339 817.5h1M1340.5 818v2M1341 820.5h1M1342.5 821v2M1343 823.5h1M1344.5 824v2M1345 826.5h4M1349 825.5h5M1354 826.5h2M1356 827.5h1M1357 828.5h2M1359 829.5h2M1361 830.5h4M1365 831.5h5M1370.5 832v2M1371 834.5h1M1372.5 835v2M1373 837.5h1M1374.5 838v2M1375 840.5h1M1376.5 841v2M1377 843.5h1M1378 842.5h2M1380 841.5h1M1381 840.5h2M1383 839.5h2M1385 838.5h2M1387 839.5h2M1389 840.5h3M1392 841.5h2M1394.5 839v2M1395 838.5h1M1396 837.5h1M1397.5 835v2M1398 834.5h1M1399 833.5h1M1400.5 831v2M1401 830.5h1M1402 831.5h1M1403.5 832v2M1404 834.5h1M1405 835.5h1M1406 836.5h1M1407.5 837v2M1408 839.5h1M1409 840.5h2M1411 839.5h2M1413 838.5h3M1416 837.5h2M1418.5 838v2M1419 840.5h1M1420 841.5h1M1421.5 842v2M1422 844.5h1M1423 845.5h1M1424.5 846v2M1425 848.5h4M1429 849.5h6M1435 848.5h2M1437 847.5h3M1440 846.5h3M1443 845.5h4M1447 844.5h3"/></g><text x="-1" y="766" font-size="10" fill="#000" stroke="#000" stroke-width="0.15" textLength="65.5" lengthAdjust="spacingAndGlyphs" >RSI(14) 48.2011</text><text x="1688" y="764.4" font-size="10" fill="#000" stroke="#000" stroke-width="0.15" textLength="15" lengthAdjust="spacingAndGlyphs" >100</text><text x="1688" y="793.1" font-size="10" fill="#000" stroke="#000" stroke-width="0.15" textLength="10" lengthAdjust="spacingAndGlyphs" >80</text><text x="1688" y="844.4" font-size="10" fill="#000" stroke="#000" stroke-width="0.15" textLength="10" lengthAdjust="spacingAndGlyphs" >50</text><text x="1688" y="905.1" font-size="10" fill="#000" stroke="#000" stroke-width="0.15" textLength="10" lengthAdjust="spacingAndGlyphs" >15</text><text x="1688" y="924.4" font-size="10" fill="#000" stroke="#000" stroke-width="0.15" textLength="5" lengthAdjust="spacingAndGlyphs" >0</text><text x="-7.9" y="940" font-size="10" fill="#000" stroke="#000" stroke-width="0.15" textLength="48.2" lengthAdjust="spacingAndGlyphs" >1 Nov 2019</text><text x="56.1" y="940" font-size="10" fill="#000" stroke="#000" stroke-width="0.15" textLength="53.3" lengthAdjust="spacingAndGlyphs" >13 Nov 2019</text><text x="120.1" y="940" font-size="10" fill="#000" stroke="#000" stroke-width="0.15" textLength="53.3" lengthAdjust="spacingAndGlyphs" >25 Nov 2019</text><text x="184.1" y="940" font-size="10" fill="#000" stroke="#000" stroke-width="0.15" textLength="47.5" lengthAdjust="spacingAndGlyphs" >5 Dec 2019</text><text x="248.1" y="940" font-size="10" fill="#000" stroke="#000" stroke-width="0.15" textLength="52.6" lengthAdjust="spacingAndGlyphs" >17 Dec 2019</text><text x="312.1" y="940" font-size="10" fill="#000" stroke="#000" stroke-width="0.15" textLength="52.6" lengthAdjust="spacingAndGlyphs" >31 Dec 2019</text><text x="376.1" y="940" font-size="10" fill="#000" stroke="#000" stroke-width="0.15" textLength="50.2" lengthAdjust="spacingAndGlyphs" >13 Jan 2020</text><text x="440.1" y="940" font-size="10" fill="#000" stroke="#000" stroke-width="0.15" textLength="50.2" lengthAdjust="spacingAndGlyphs" >23 Jan 2020</text><text x="504.1" y="940" font-size="10" fill="#000" stroke="#000" stroke-width="0.15" textLength="47.1" lengthAdjust="spacingAndGlyphs" >6 Feb 2020</text><text x="568.1" y="940" font-size="10" fill="#000" stroke="#000" stroke-width="0.15" textLength="52.2" lengthAdjust="spacingAndGlyphs" >18 Feb 2020</text><text x="632.1" y="940" font-size="10" fill="#000" stroke="#000" stroke-width="0.15" textLength="52.2" lengthAdjust="spacingAndGlyphs" >28 Feb 2020</text><text x="696.1" y="940" font-size="10" fill="#000" stroke="#000" stroke-width="0.15" textLength="52.2" lengthAdjust="spacingAndGlyphs" >11 Mar 2020</text><text x="760.1" y="940" font-size="10" fill="#000" stroke="#000" stroke-width="0.15" textLength="52.2" lengthAdjust="spacingAndGlyphs" >23 Mar 2020</text><text x="824.1" y="940" font-size="10" fill="#000" stroke="#000" stroke-width="0.15" textLength="46.2" lengthAdjust="spacingAndGlyphs" >2 Apr 2020</text><text x="888.1" y="940" font-size="10" fill="#000" stroke="#000" stroke-width="0.15" textLength="51.4" lengthAdjust="spacingAndGlyphs" >16 Apr 2020</text><text x="952.1" y="940" font-size="10" fill="#000" stroke="#000" stroke-width="0.15" textLength="51.4" lengthAdjust="spacingAndGlyphs" >28 Apr 2020</text><text x="1016.1" y="940" font-size="10" fill="#000" stroke="#000" stroke-width="0.15" textLength="54.9" lengthAdjust="spacingAndGlyphs" >12 May 2020</text><text x="1080.1" y="940" font-size="10" fill="#000" stroke="#000" stroke-width="0.15" textLength="54.9" lengthAdjust="spacingAndGlyphs" >22 May 2020</text><text x="1144.1" y="940" font-size="10" fill="#000" stroke="#000" stroke-width="0.15" textLength="44.9" lengthAdjust="spacingAndGlyphs" >3 Jun 2020</text><text x="1208.1" y="940" font-size="10" fill="#000" stroke="#000" stroke-width="0.15" textLength="50.0" lengthAdjust="spacingAndGlyphs" >15 Jun 2020</text><text x="1272.1" y="940" font-size="10" fill="#000" stroke="#000" stroke-width="0.15" textLength="50.0" lengthAdjust="spacingAndGlyphs" >26 Jun 2020</text><text x="1336.1" y="940" font-size="10" fill="#000" stroke="#000" stroke-width="0.15" textLength="42.5" lengthAdjust="spacingAndGlyphs" >9 Jul 2020</text><text x="1400.1" y="940" font-size="10" fill="#000" stroke="#000" stroke-width="0.15" textLength="47.6" lengthAdjust="spacingAndGlyphs" >21 Jul 2020</text><text x="8.2" y="37.9" font-size="10" fill="#000" stroke="#000" stroke-width="0.15" textLength="50.5" lengthAdjust="spacingAndGlyphs" >HK50-,Daily</text><text x="66" y="37.9" font-size="10" fill="#000" stroke="#000" stroke-width="0.15" textLength="140" lengthAdjust="spacingAndGlyphs" >24702.5 24877.0 24636.0 24851.0</text><path d="M0 33 L0 37 L3 37 Z" fill="#000"/><path d="M1457 27 L1468 27 L1462.5 32 Z" fill="#c0c0c0"/><rect x="1730" y="24" width="1" height="904" fill="#dcdcdc"/></svg>
<div id="tb"><div class="sh"></div><svg width="1731" height="24" viewBox="0 0 1731 24" style="position:absolute;left:0;top:0" text-rendering="geometricPrecision" font-family="Liberation Sans, Noto Sans CJK SC, sans-serif">
<defs>
<linearGradient id="gGold" x1="0" y1="0" x2="1" y2="1"><stop offset="0" stop-color="#f8d848"/><stop offset="0.5" stop-color="#e0a818"/><stop offset="1" stop-color="#a86c08"/></linearGradient>
<linearGradient id="gPlus" x1="0" y1="0" x2="0" y2="1"><stop offset="0" stop-color="#58e868"/><stop offset="1" stop-color="#00a010"/></linearGradient>
<linearGradient id="gYel" x1="0" y1="0" x2="0" y2="1"><stop offset="0" stop-color="#fff080"/><stop offset="1" stop-color="#e0a800"/></linearGradient>
<radialGradient id="gLens" cx="0.4" cy="0.35" r="0.7"><stop offset="0" stop-color="#ffffff"/><stop offset="1" stop-color="#b8dcf4"/></radialGradient>
<radialGradient id="gClock" cx="0.5" cy="0.4" r="0.6"><stop offset="0" stop-color="#ffffff"/><stop offset="1" stop-color="#dce8f4"/></radialGradient>
<linearGradient id="gBub" x1="0" y1="0" x2="0" y2="1"><stop offset="0" stop-color="#ffffff"/><stop offset="1" stop-color="#d8d8e4"/></linearGradient>
<pattern id="pPress" width="2" height="2" patternUnits="userSpaceOnUse"><rect width="2" height="2" fill="#fafafa"/><rect width="1" height="1" fill="#efefef"/><rect x="1" y="1" width="1" height="1" fill="#efefef"/></pattern>
<g id="grip" shape-rendering="crispEdges"><rect x="0" y="1" width="3" height="1" fill="#a0a0a0"/><rect x="0" y="3" width="3" height="1" fill="#a0a0a0"/><rect x="0" y="5" width="3" height="1" fill="#a0a0a0"/><rect x="0" y="7" width="3" height="1" fill="#a0a0a0"/><rect x="0" y="9" width="3" height="1" fill="#a0a0a0"/><rect x="0" y="11" width="3" height="1" fill="#a0a0a0"/><rect x="0" y="13" width="3" height="1" fill="#a0a0a0"/><rect x="0" y="15" width="3" height="1" fill="#a0a0a0"/><rect x="0" y="17" width="3" height="1" fill="#a0a0a0"/></g>
<g id="axes" fill="none" stroke="#505050" stroke-width="1.3"><path d="M2.5 4 V17.5 M0 15 H13.5"/><path d="M2.5 3 L0.8 6 M2.5 3 L4.2 6 M14 15 L11 13.3 M14 15 L11 16.7" stroke-width="1"/></g>
<path id="dd" d="M0 0 H5 L2.5 2.6 Z" fill="#000"/>
<g id="docplus">
 <path d="M0.5 1 Q0.5 0 1.5 0 H8 L11.5 3.5 V12.5 Q11.5 13.5 10.5 13.5 H1.5 Q0.5 13.5 0.5 12.5 Z" fill="#fff" stroke="#707070" stroke-width="1"/>
 <path d="M8 0 V3.5 H11.5" fill="#e8e8e8" stroke="#707070" stroke-width="0.8"/>
 <path d="M4.2 7.5 H15.2 V11.5 H4.2 Z M7.7 4 H11.7 V15 H7.7 Z" transform="translate(1.5,2)" fill="url(#gPlus)" stroke="#008810" stroke-width="0.8" stroke-linejoin="round"/>
 <rect x="9.7" y="6.3" width="3" height="10.4" fill="#20c838"/><rect x="6.2" y="10" width="10" height="3" fill="#20c838"/>
</g>
</defs>
<!-- pressed backgrounds -->
<rect x="320" y="0" width="25" height="21" fill="url(#pPress)"/>
<rect x="472" y="0" width="25" height="21" fill="url(#pPress)"/>
<rect x="500" y="0" width="25" height="21" fill="url(#pPress)"/>
<rect x="660" y="0" width="25" height="21" fill="url(#pPress)"/>
<rect x="1134" y="0" width="24" height="21" fill="url(#pPress)"/>
<!-- separators -->
<g shape-rendering="crispEdges" fill="#a0a0a0">
<rect x="45" y="0" width="1" height="20"/><rect x="281" y="0" width="1" height="21" fill="#8c8c8c"/><rect x="319" y="0" width="1" height="20"/><rect x="376" y="0" width="1" height="20"/>
<rect x="466" y="0" width="1" height="20"/><rect x="471" y="0" width="1" height="20"/><rect x="499" y="0" width="1" height="20"/><rect x="528" y="0" width="1" height="20"/>
<rect x="649" y="0" width="1" height="21" fill="#8c8c8c"/><rect x="659" y="0" width="1" height="20"/><rect x="716" y="0" width="1" height="20"/><rect x="955" y="0" width="1" height="21" fill="#8c8c8c"/>
<rect x="1133" y="0" width="1" height="20"/><rect x="1216" y="0" width="1" height="21" fill="#8c8c8c"/>
</g>
<use href="#grip" x="285" y="0"/><use href="#grip" x="653" y="0"/><use href="#grip" x="959" y="0"/>
<!-- 1: partial doc -->
<rect x="-3" y="3.5" width="10.5" height="13" rx="1.5" fill="#fff" stroke="#2f74b8" stroke-width="1.2"/>
<g shape-rendering="crispEdges" fill="#d4e0f8"><rect x="0" y="5" width="6" height="1"/><rect x="0" y="7" width="6" height="1"/><rect x="0" y="9" width="6" height="1"/><rect x="0" y="11" width="6" height="1"/></g>
<!-- 2: chart magnifier -->
<rect x="20.5" y="2.5" width="12.5" height="13" rx="1" fill="#fff" stroke="#b4ac94" stroke-width="1"/>
<path d="M23.5 4 V9 M22.5 8.5 H24 M29.5 4 V7 M29 5 H31" stroke="#606060" stroke-width="1" fill="none"/>
<line x1="32.5" y1="15" x2="37" y2="18.7" stroke="#c89010" stroke-width="2.6" stroke-linecap="round"/>
<circle cx="28.5" cy="11.2" r="5" fill="url(#gLens)" stroke="#5b94dc" stroke-width="1.1"/>
<rect x="26.5" y="8" width="3" height="5" fill="#a8b8c4" opacity="0.8"/>
<!-- 3: new order -->
<g transform="translate(55,2.3)"><path d="M0.5 1 Q0.5 0 1.5 0 H8 L11.5 3.5 V12.5 Q11.5 13.5 10.5 13.5 H1.5 Q0.5 13.5 0.5 12.5 Z" fill="#fff" stroke="#707070" stroke-width="1"/><path d="M8 0 V3.5 H11.5" fill="#e8e8e8" stroke="#707070" stroke-width="0.8"/>
<rect x="2.3" y="2.2" width="2.6" height="1.4" fill="#808080"/><path d="M2.3 6.3 H9 M2.3 8.3 H7 M2.3 10.3 H5" stroke="#909090" stroke-width="0.9"/>
<path d="M8.5 6 H12.5 V9.5 H16 V13.5 H12.5 V17.5 H8.5 V13.5 H5 V9.5 H8.5 Z" fill="#009c10" shape-rendering="crispEdges"/><path d="M9.5 7 H11.5 V10.5 H15 V12.5 H11.5 V16.5 H9.5 V12.5 H6 V10.5 H9.5 Z" fill="url(#gPlus)" shape-rendering="crispEdges"/></g>
<text x="74" y="12.9" font-size="12" fill="#000" textLength="36" lengthAdjust="spacingAndGlyphs">新订单</text>
<!-- 4: gold book -->
<path d="M138 10.4 L138 12.2 L130.6 18.6 L122.2 13.4 L122 12" fill="#b87c10" stroke="#8c5c08" stroke-width="0.8" stroke-linejoin="round"/>
<path d="M137.4 11.6 L130.5 17.6" stroke="#f8e8a0" stroke-width="0.7" fill="none"/>
<path d="M127.8 2.8 L138 10.4 L130.3 17.2 L122 12 Q125.6 8 127.8 2.8 Z" fill="url(#gGold)" stroke="#a06808" stroke-width="0.9" stroke-linejoin="round"/>
<path d="M128.3 4 Q126.4 8.4 123.4 11.8" stroke="#fff4b0" stroke-width="1.1" fill="none" opacity="0.85"/>
<!-- 5: blue box + cloud -->
<path d="M152.3 3.8 L156 2.2 H163.2 V11.8 H155.6 L152.3 10.4 Z" fill="#1e9cff" stroke="#1470d0" stroke-width="0.8" stroke-linejoin="round"/>
<path d="M152.6 4 L156 2.6 H163 L159.6 4.2 H156 Z" fill="#8cd0ff"/>
<path d="M155.8 4.2 V11.6" stroke="#c8ecff" stroke-width="1"/><rect x="157.6" y="6.2" width="4.2" height="1.4" fill="#e8f8ff"/>
<linearGradient id="gCloud" x1="0" y1="0" x2="0" y2="1"><stop offset="0" stop-color="#ffffff"/><stop offset="1" stop-color="#b4c4e4"/></linearGradient>
<path d="M152.5 17.7 Q149.6 17.7 149.9 15.2 Q150.2 13.1 152.8 13.1 Q153.6 10.3 156.6 10.7 Q158.6 10.9 159.3 12.5 Q160.6 11.5 162.3 12.3 Q163.8 13 163.6 14.3 Q166.2 14.3 166.2 16 Q166.2 17.7 164 17.7 Z" fill="url(#gCloud)" stroke="#5870b0" stroke-width="0.9"/>
<!-- 6: signal -->
<linearGradient id="gSig" x1="0" y1="0" x2="1" y2="0.4"><stop offset="0" stop-color="#f8f8fc"/><stop offset="0.5" stop-color="#eef2ee"/><stop offset="1" stop-color="#8cc890"/></linearGradient>
<linearGradient id="gWedge" x1="0" y1="1" x2="1" y2="0"><stop offset="0" stop-color="#18a018"/><stop offset="1" stop-color="#a0d0a0"/></linearGradient>
<circle cx="185.7" cy="9.8" r="7.9" fill="url(#gSig)"/>
<path d="M185.9 9.8 V17.9 A8 8 0 0 0 193.5 11.5 Q190.5 12.5 188.5 10.5 Z" fill="url(#gWedge)"/>
<g fill="none" stroke-width="1.1"><path d="M185.7 2.1 A7.7 7.7 0 0 0 183 17" stroke="#6484d8" stroke-dasharray="2.4,0.9"/><path d="M185.7 5 A4.8 4.8 0 0 0 184 14.3" stroke="#7c98e0" stroke-dasharray="2.2,0.8"/>
<path d="M185.7 2.1 A7.7 7.7 0 0 1 193.4 10" stroke="#6c94b8"/><path d="M185.7 5 A4.8 4.8 0 0 1 190.5 9.8" stroke="#8cb0c0"/></g>
<circle cx="185.5" cy="9.6" r="1.9" fill="#2c54d4"/>
<path d="M186.4 10 V17.8" stroke="#14a014" stroke-width="1.4"/>
<!-- 7: auto trading -->
<path d="M206 9 Q213 11.5 220.6 8.6 L214.2 17.2 Q212.8 18.2 211.6 17 Z" fill="url(#gYel)" stroke="#d09c00" stroke-width="0.7" stroke-linejoin="round"/>
<path d="M205.3 7 Q205.2 5 208.6 5.2 Q209.2 2.2 212.8 2.2 Q216.2 2.2 216.8 5 Q220.8 4.2 221 6.4 Q220.6 8.8 213.2 9.4 Q206 9.6 205.3 7 Z" fill="#5cb4ee" stroke="#1c84bc" stroke-width="0.9" stroke-linejoin="round"/>
<path d="M209.4 6.2 Q213 7.6 216.6 6" stroke="#1c84bc" stroke-width="0.7" fill="none"/>
<path d="M210.4 3.8 Q212.4 2.8 214 3.4" stroke="#c4e8ff" stroke-width="0.9" fill="none"/>
<circle cx="217.6" cy="13.8" r="4.2" fill="#e42408" stroke="#b01404" stroke-width="0.7"/><rect x="216.1" y="12.3" width="3" height="3" fill="#fff"/>
<text x="226.5" y="12.9" font-size="12" fill="#000" textLength="47" lengthAdjust="spacingAndGlyphs">自动交易</text>
<!-- chart type icons -->
<use href="#axes" x="297" y="0"/><path d="M304.5 5.5 H307.5 M304.5 5.5 V12.5 M302.5 12.5 H304.5" stroke="#20a030" stroke-width="1.4" fill="none"/>
<use href="#axes" x="325" y="0"/><path d="M333.7 2 V13.5" stroke="#108820" stroke-width="1.2"/><rect x="331.7" y="4" width="4" height="7.4" fill="#30d848" stroke="#108820" stroke-width="0.9"/>
<use href="#axes" x="353" y="0"/><path d="M354.5 12.5 Q359 5 362 7.5 T366 11" stroke="#30a040" stroke-width="1.3" fill="none"/>
<!-- zoom in/out -->
<g><line x1="395" y1="12" x2="400" y2="16.8" stroke="#c8a020" stroke-width="2.6" stroke-linecap="round"/><circle cx="390.9" cy="7.7" r="5.2" fill="url(#gLens)" stroke="#3878c8" stroke-width="1.3"/><path d="M387.9 7.7 H393.9 M390.9 4.7 V10.7" stroke="#3070c0" stroke-width="1.6"/></g>
<g><line x1="423.3" y1="12" x2="428.3" y2="16.8" stroke="#c8a020" stroke-width="2.6" stroke-linecap="round"/><circle cx="419.2" cy="7.7" r="5.2" fill="url(#gLens)" stroke="#3878c8" stroke-width="1.3"/><path d="M416.2 7.7 H422.2" stroke="#3070c0" stroke-width="1.6"/></g>
<!-- tile -->
<g shape-rendering="crispEdges"><rect x="441" y="2" width="8" height="8" fill="#38a838"/><rect x="449" y="2" width="8" height="8" fill="#2050c8"/><rect x="441" y="10" width="8" height="8" fill="#2050c8"/><rect x="449" y="10" width="8" height="8" fill="#38a838"/>
<rect x="442" y="5" width="6" height="4" fill="#d8f0d8"/><rect x="450" y="5" width="6" height="4" fill="#e0e8ff"/><rect x="442" y="13" width="6" height="4" fill="#e0e8ff"/><rect x="450" y="13" width="6" height="4" fill="#d8f0d8"/>
<rect x="443" y="7" width="4" height="1" fill="#78c078"/><rect x="451" y="7" width="4" height="1" fill="#7890e0"/><rect x="443" y="15" width="4" height="1" fill="#7890e0"/><rect x="451" y="15" width="4" height="1" fill="#78c078"/></g>
<!-- autoscroll, shift -->
<use href="#axes" x="477" y="0"/><path d="M484.5 6 L488 9 L484.5 12 Z" fill="#60d060" stroke="#20a030" stroke-width="1"/>
<use href="#axes" x="505" y="0"/><path d="M513.5 4 V14" stroke="#2070c0" stroke-width="1.2"/><path d="M519 9.5 H515 M517 7.5 L514.8 9.5 L517 11.5" stroke="#d84010" stroke-width="1.2" fill="none"/>
<!-- indicators -->
<g transform="translate(538.5,2.3)"><path d="M0.5 1 Q0.5 0 1.5 0 H7 L10 3 V11.5 Q10 12.5 9 12.5 H1.5 Q0.5 12.5 0.5 11.5 Z" fill="#fff" stroke="#707070" stroke-width="1"/><path d="M7 0 V3 H10" fill="#e8e8e8" stroke="#707070" stroke-width="0.8"/><path d="M3 4 Q2 4 2 5.5 V9 Q2 10.5 3 10.5" stroke="#606060" fill="none" stroke-width="0.9"/>
<path d="M7.5 5.7 H11.5 V9.7 H15.5 V13.7 H11.5 V17.7 H7.5 V13.7 H3.5 V9.7 H7.5 Z" fill="#009c10" shape-rendering="crispEdges"/><path d="M8.5 6.7 H10.5 V10.7 H14.5 V12.7 H10.5 V16.7 H8.5 V12.7 H4.5 V10.7 H8.5 Z" fill="url(#gPlus)" shape-rendering="crispEdges"/></g>
<use href="#dd" x="560" y="9.2"/>
<!-- clock -->
<linearGradient id="gRing" x1="0" y1="0" x2="0" y2="1"><stop offset="0" stop-color="#48a4f4"/><stop offset="1" stop-color="#0c44a4"/></linearGradient><circle cx="584" cy="10" r="6.9" fill="url(#gClock)" stroke="url(#gRing)" stroke-width="2.5"/><path d="M583.6 6 V10.2 H586.6" stroke="#383c40" stroke-width="1.1" fill="none"/><path d="M582.5 13 H585.5" stroke="#90b0e0" stroke-width="0.8"/>
<use href="#dd" x="599" y="9.2"/>
<!-- templates -->
<rect x="615.6" y="3.6" width="15" height="12.4" fill="#fff" stroke="#2868c0" stroke-width="1.2"/><rect x="615.6" y="3.6" width="15" height="2.2" fill="#5c9ce8"/><path d="M615.6 10.6 H630.6" stroke="#2868c0" stroke-width="1"/>
<path d="M617 9 L620 8 L623 8.6 L626 7.2 L629 7.6" stroke="#c02818" stroke-width="1.1" fill="none"/><path d="M617 14.6 L620 13.4 L622.5 14.6 L625.5 12.6 L629 14.4" stroke="#189828" stroke-width="1.1" fill="none"/>
<use href="#dd" x="638.5" y="9.2"/>
<!-- cursor -->
<path d="M667 3 V14.5 L669.8 12 L672 17 L674 16.2 L671.8 11.3 L675.4 11 Z" fill="#404040"/>
<path d="M699.5 3 V18 M692 10.5 H707" stroke="#505050" stroke-width="1.1" fill="none"/><rect x="699" y="10" width="1" height="1" fill="#f0f0f0"/>
<!-- line tools -->
<path d="M733.5 4 V17" stroke="#505050" stroke-width="1.2"/><path d="M756 10.5 H768" stroke="#505050" stroke-width="1.2"/><path d="M783.8 16.8 L795.8 4.9" stroke="#505050" stroke-width="1.2"/>
<g stroke="#505050" stroke-width="1" fill="none"><path d="M810 12 L822 4 M812 16 L824 8"/><path d="M814 5 V17 M818 3.5 V15.5 M822 2 V12" stroke-width="0.9"/></g>
<text x="821" y="18.6" font-size="6.5" font-weight="bold" fill="#404040">E</text>
<g stroke="#505050" stroke-width="1" stroke-dasharray="1,1" fill="none"><path d="M839 3.5 H852 M839 7 H852 M839 10.5 H852 M839 14.5 H848"/></g>
<text x="849" y="18.6" font-size="6.5" font-weight="bold" fill="#404040">F</text>
<text x="869.5" y="15" font-size="12.5" fill="#686868" stroke="#686868" stroke-width="0.5" textLength="8.2" lengthAdjust="spacingAndGlyphs">A</text>
<rect x="896.5" y="4.5" width="11" height="12" fill="none" stroke="#505050" stroke-width="1" stroke-dasharray="1,1" shape-rendering="crispEdges"/><path d="M898.5 7 H905.5 M902 7 V14.5" stroke="#505050" stroke-width="1.5" fill="none"/>
<path d="M927 3.5 L930.5 7 L927 9 L923.5 7 Z M933 12 L937 14 L933 17.5 L929.5 14 Z" fill="#404040"/><path d="M926.5 11 L929 13 L933.5 7.5" stroke="#404040" stroke-width="1.3" fill="none"/>
<use href="#dd" x="944" y="9.2"/>
<!-- timeframes -->
<g font-size="9" fill="#4c4c4c">
<text x="970.5" y="13.8" textLength="12.5" lengthAdjust="spacingAndGlyphs">M1</text><text x="999" y="13.8" textLength="12" lengthAdjust="spacingAndGlyphs">M5</text>
<text x="1024.4" y="13.8" textLength="18" lengthAdjust="spacingAndGlyphs">M15</text><text x="1052.4" y="13.8" textLength="18" lengthAdjust="spacingAndGlyphs">M30</text>
<text x="1083.5" y="13.8" textLength="11.5" lengthAdjust="spacingAndGlyphs">H1</text><text x="1110.5" y="13.8" textLength="12.5" lengthAdjust="spacingAndGlyphs">H4</text>
<text x="1139.5" y="13.8" textLength="11.5" lengthAdjust="spacingAndGlyphs">D1</text><text x="1167" y="13.8" textLength="14" lengthAdjust="spacingAndGlyphs">W1</text>
<text x="1193.7" y="13.8" textLength="14.5" lengthAdjust="spacingAndGlyphs">MN</text></g>
<!-- search, chat -->
<line x1="1683.4" y1="10.4" x2="1679.2" y2="14.6" stroke="#2860d8" stroke-width="2.6" stroke-linecap="round"/><circle cx="1686.7" cy="7.4" r="4" fill="#f6f6ff" stroke="#2860d8" stroke-width="1.4"/>
<path d="M1721.5 11 L1722.6 13.6 L1719.4 11.5 Z" fill="#707070"/><ellipse cx="1719" cy="7" rx="6.5" ry="4.7" fill="url(#gBub)" stroke="#909090" stroke-width="0.9"/>
<path d="M1707.6 14 L1707.4 16.6 L1710 14.7 Z" fill="#707070"/><ellipse cx="1710.2" cy="11" rx="5.1" ry="3.9" fill="url(#gBub)" stroke="#909090" stroke-width="0.9"/>
</svg>
</div>
<svg width="216" height="66" viewBox="0 46 216 66" style="position:absolute;left:0;top:46px" text-rendering="geometricPrecision" font-family="Liberation Sans, sans-serif">
<defs>
<linearGradient id="pTab" x1="0" y1="0" x2="0" y2="1"><stop offset="0" stop-color="#f85858"/><stop offset="1" stop-color="#dc2c2c"/></linearGradient>
<linearGradient id="pBig" x1="0" y1="0" x2="0" y2="1"><stop offset="0" stop-color="#dc3030"/><stop offset="0.5" stop-color="#c81818"/><stop offset="1" stop-color="#ae0000"/></linearGradient>
<linearGradient id="pBtn" x1="0" y1="0" x2="0" y2="1"><stop offset="0" stop-color="#f2f2f2"/><stop offset="0.5" stop-color="#dcdcdc"/><stop offset="1" stop-color="#c8c8c8"/></linearGradient>
</defs>
<rect x="0" y="46" width="215" height="25" fill="#fff"/>
<rect x="0" y="46" width="47.5" height="25" fill="url(#pTab)"/>
<rect x="163" y="46" width="52" height="25" fill="url(#pTab)"/>
<rect x="0" y="70" width="105" height="40" fill="url(#pBig)"/>
<rect x="107" y="70" width="108" height="40" fill="url(#pBig)"/>
<rect x="105" y="70" width="2" height="40" fill="#fff"/>
<rect x="0" y="69" width="44" height="1" fill="#a00000"/><rect x="167" y="69" width="44" height="1" fill="#a00000"/><rect x="0" y="70" width="44" height="1" fill="#f07070"/><rect x="167" y="70" width="44" height="1" fill="#f07070"/><rect x="0" y="46" width="47.5" height="1" fill="#c01010"/><rect x="46.5" y="46" width="1" height="24" fill="#c01010"/><rect x="163" y="46" width="52" height="1" fill="#c01010"/><rect x="163" y="46" width="1" height="24" fill="#c01010"/><rect x="214" y="46" width="1" height="64" fill="#b80808"/>
<!-- volume box -->
<rect x="50.5" y="46.5" width="110" height="21" rx="1.5" fill="#fff" stroke="#a8b0b8" stroke-width="1"/>
<rect x="51.5" y="47.5" width="19" height="19" fill="url(#pBtn)" stroke="#e8e8e8" stroke-width="0.6"/>
<rect x="140.5" y="47.5" width="19" height="19" fill="url(#pBtn)" stroke="#e8e8e8" stroke-width="0.6"/>
<path d="M71.5 47 V67 M139.5 47 V67" stroke="#b8c0c8" stroke-width="1"/>
<path d="M57.8 55.4 H63.2 L60.5 58.4 Z" fill="#4860c0"/>
<path d="M147 58.4 H152.4 L149.7 55.4 Z" fill="#4860c0"/>
<text x="135.5" y="61.2" font-size="12" fill="#000" text-anchor="end" textLength="23" lengthAdjust="spacingAndGlyphs">1.00</text>
<text x="8.2" y="61.8" font-size="12" fill="#fff" textLength="25.7" lengthAdjust="spacingAndGlyphs">SELL</text>
<text x="176.5" y="61.8" font-size="12" fill="#fff" textLength="23" lengthAdjust="spacingAndGlyphs">BUY</text>
<text x="12.2" y="100.4" font-size="11.5" font-weight="bold" fill="#fff" textLength="34.6" lengthAdjust="spacingAndGlyphs">24849</text>
<text x="122.2" y="100.4" font-size="11.5" font-weight="bold" fill="#fff" textLength="34" lengthAdjust="spacingAndGlyphs">24863</text>
<rect x="51.4" y="97.2" width="4" height="3.8" rx="1.2" fill="#fff"/><rect x="163" y="97.2" width="4" height="3.8" rx="1.2" fill="#fff"/>
<text x="58.3" y="101" font-size="34.6" fill="#fff" textLength="15.5" lengthAdjust="spacingAndGlyphs">5</text>
<text x="169.3" y="101" font-size="34.6" fill="#fff" textLength="15.5" lengthAdjust="spacingAndGlyphs">5</text>
</svg>

</body></html>
